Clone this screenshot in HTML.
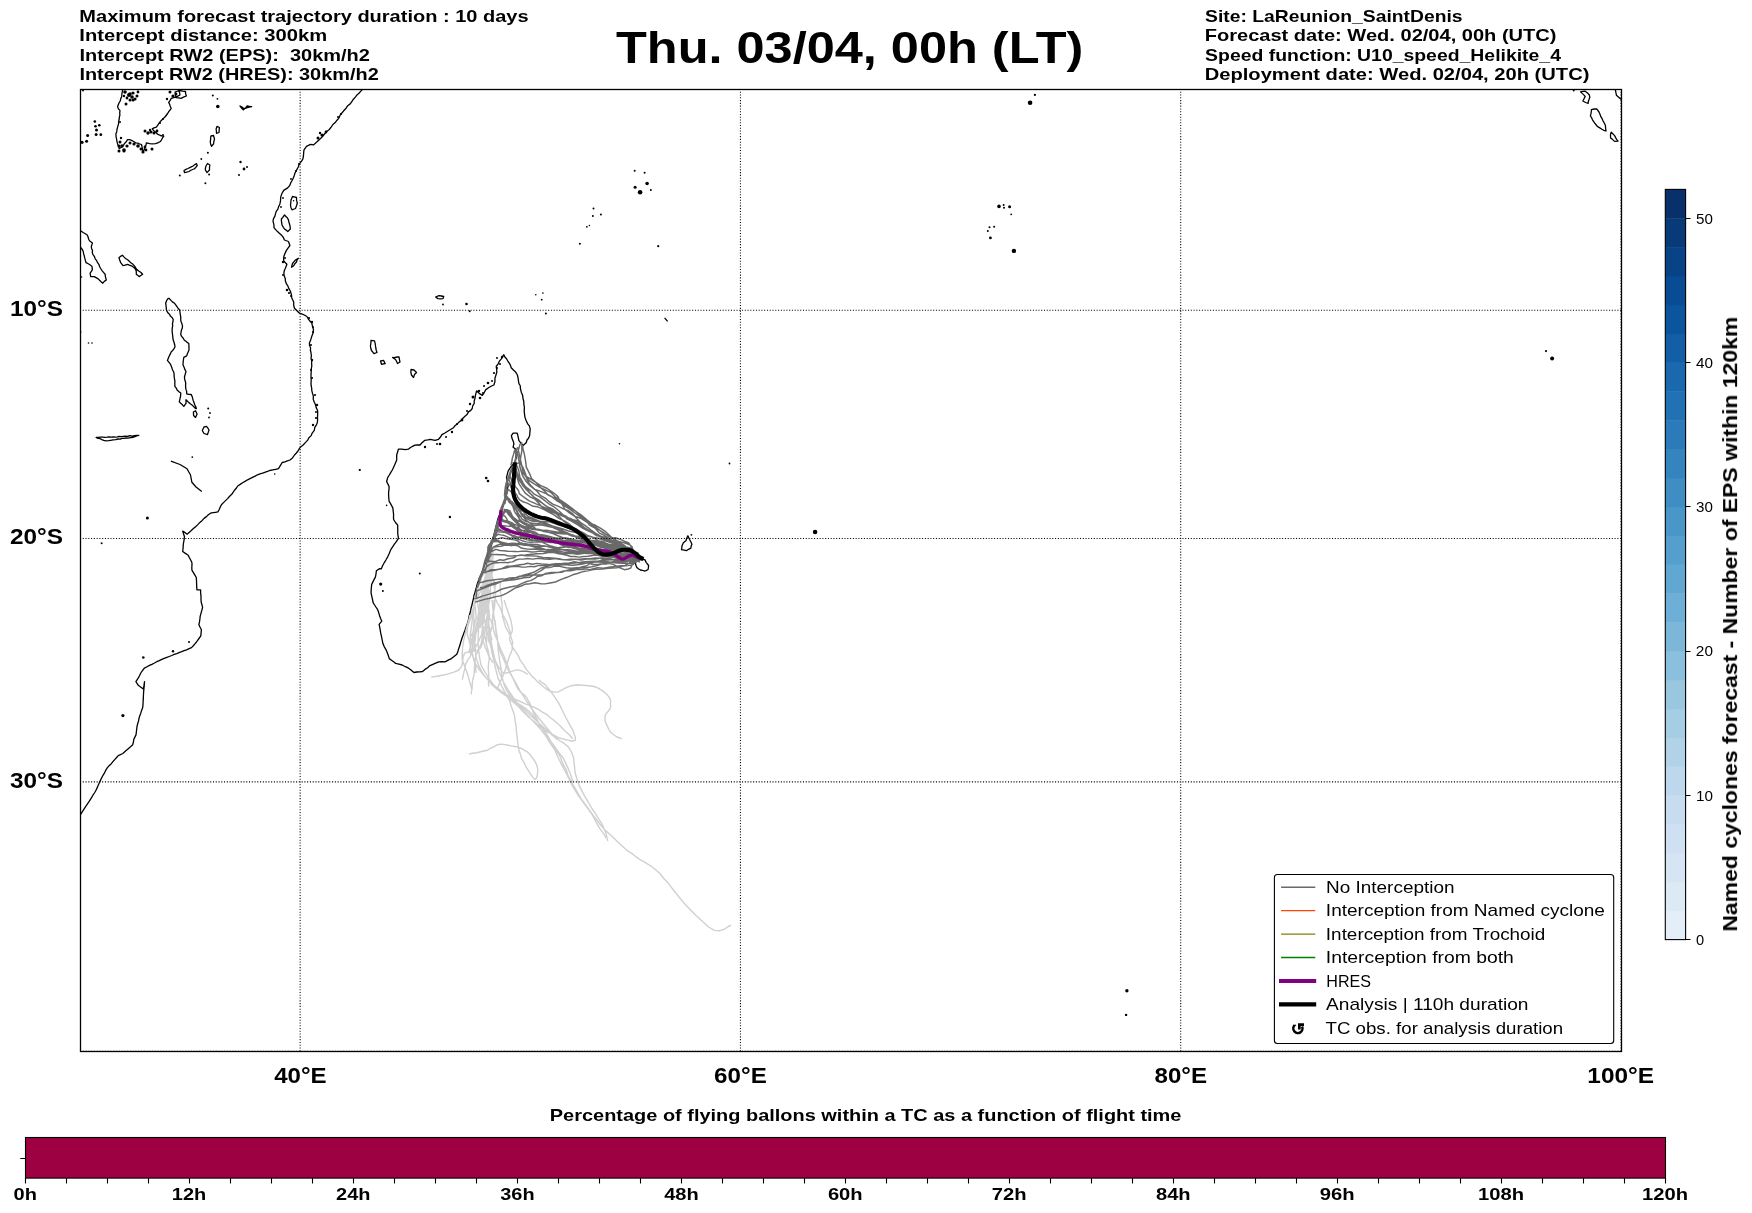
<!DOCTYPE html><html><head><meta charset="utf-8"><style>html,body{margin:0;padding:0;background:#fff;}svg{display:block;}text{font-family:"Liberation Sans",sans-serif;white-space:pre;}</style></head><body>
<svg width="1752" height="1213" viewBox="0 0 1752 1213">
<rect width="1752" height="1213" fill="#fff"/>
<defs><clipPath id="mc"><rect x="80.00" y="89.00" width="1541.00" height="962.28"/></clipPath></defs>
<g clip-path="url(#mc)">
<path d="M362.4 89.5 360.6 91.4 359.2 93.1 357.0 94.9 355.3 97.1 353.4 99.2 352.0 101.3 350.2 103.9 347.7 105.7 346.1 108.2 343.7 110.8 342.3 112.5 340.1 115.2 338.9 118.1 337.0 120.2 335.2 122.6 332.9 124.5 331.3 126.8 329.3 129.5 327.0 131.3 324.9 133.5 323.3 135.5 321.3 137.8 319.4 139.6 317.4 141.4 315.4 143.3 313.4 144.9 310.5 144.4 306.5 146.3 304.0 149.8 303.7 152.3 303.5 155.2 303.0 158.6 301.6 161.2 299.1 164.1 298.4 166.8 297.1 169.1 295.9 171.2 294.9 173.3 294.1 176.0 293.2 178.2 292.1 180.5 290.7 182.9 289.6 185.7 287.7 187.9 283.7 190.4 281.8 193.8 280.7 197.1 280.5 200.9 279.9 203.9 278.5 206.9 277.9 209.1 276.1 211.6 275.5 213.8 274.9 216.1 273.5 218.6 273.0 221.2 273.9 224.6 274.0 227.6 275.4 229.4 277.5 231.6 279.3 233.2 281.9 235.6 283.4 237.5 284.4 240.0 288.4 241.5 289.9 245.5 288.2 247.9 286.4 250.4 284.9 253.6 283.9 256.3 283.6 258.9 283.9 261.3 286.9 264.3 285.4 268.2 284.3 270.6 283.9 273.2 284.1 275.6 285.3 278.7 285.4 281.1 286.5 283.9 287.9 286.0 288.8 288.4 290.3 291.0 291.4 294.6 291.8 297.9 293.7 302.0 293.7 305.5 294.5 308.2 296.7 310.5 299.5 313.2 302.2 314.1 304.3 315.0 306.9 316.5 308.2 318.8 309.9 321.0 311.8 323.1 312.5 326.4 313.5 329.7 313.1 333.0 311.8 336.3 310.7 339.9 309.4 342.9 309.5 345.1 310.6 348.1 310.4 350.0 311.0 352.8 311.4 355.8 311.0 358.5 311.8 360.8 311.6 363.0 311.8 366.0 311.2 369.3 311.2 371.9 311.0 374.9 311.0 377.5 311.2 380.0 311.0 383.0 311.1 385.2 311.7 388.4 311.8 390.7 312.5 393.4 313.4 396.2 313.2 399.1 314.3 402.2 315.4 404.6 316.2 407.6 317.6 410.5 317.7 413.5 317.5 417.5 317.6 420.4 317.2 423.0 316.1 425.4 314.8 427.4 314.3 430.3 312.2 433.1 311.2 435.6 308.9 437.8 307.7 440.1 305.6 442.4 303.4 444.7 301.2 446.4 299.5 448.4 298.0 451.0 296.4 453.0 294.5 455.0 292.5 457.9 290.0 460.0 287.4 460.9 284.9 461.8 282.2 462.5 280.3 465.7 278.5 468.7 275.7 469.3 272.7 469.9 269.8 470.5 267.4 471.4 264.8 472.3 262.6 473.2 260.0 473.9 257.5 474.8 255.1 476.1 252.5 477.4 250.0 478.6 247.6 479.8 245.0 481.4 242.6 482.8 240.2 484.4 237.7 486.0 236.2 488.3 234.5 490.2 233.0 492.5 231.5 494.6 229.4 496.5 227.6 498.6 225.5 500.6 223.5 502.6 221.6 504.5 220.3 506.9 219.2 509.5 217.9 511.9 215.5 512.3 213.0 512.7 210.5 513.2 208.3 514.8 206.5 516.6 204.3 518.1 202.2 520.4 199.9 522.4 197.8 524.6 195.6 526.8 193.4 528.6 191.3 530.5 189.1 532.4 187.0 534.2 185.0 532.6 182.7 531.1 183.5 533.8 184.5 536.7 184.0 540.3 183.3 544.1 183.1 547.8 182.7 551.5 185.4 553.4 188.2 555.2 189.3 557.6 190.7 560.0 191.9 562.6 192.0 565.0 191.8 567.5 191.9 570.1 193.4 572.6 194.9 575.1 196.3 577.5 196.5 580.7 196.6 583.6 196.7 586.6 196.9 589.8 200.6 589.8 200.6 592.9 201.0 595.9 201.0 599.1 201.2 602.2 202.0 604.8 202.6 607.4 201.8 610.4 201.0 613.3 200.2 616.1 199.9 618.9 199.5 621.9 198.9 624.7 200.1 627.2 201.4 629.7 201.1 632.9 200.8 635.9 198.6 639.0 196.5 642.0 194.9 643.9 193.3 645.7 191.5 647.6 189.1 648.6 186.6 649.8 184.1 650.7 181.7 651.7 179.1 652.7 176.8 653.6 174.2 654.4 171.7 655.5 169.2 656.5 166.9 657.4 164.2 658.4 161.8 659.4 159.3 660.7 156.8 661.7 154.5 663.0 151.9 664.3 149.5 665.4 146.9 666.8 144.5 668.0 142.6 670.4 140.8 673.0 139.6 675.5 138.3 677.9 135.9 681.6 138.3 685.3 140.9 687.2 143.3 689.0 144.0 685.3 144.5 681.6 144.3 685.2 143.9 689.0 143.6 692.3 143.4 695.7 143.3 698.9 143.1 701.8 143.0 704.7 142.7 707.6 141.6 710.4 140.7 713.4 139.6 716.2 138.9 718.8 138.5 721.2 137.7 723.5 137.1 726.1 136.7 729.0 136.4 731.8 136.0 734.9 133.9 739.1 133.4 742.0 132.7 744.8 130.5 746.8 128.3 748.7 126.1 750.6 122.8 753.5 118.3 755.6 116.6 757.5 114.7 759.6 112.9 761.7 111.1 763.9 109.0 765.8 107.2 767.9 105.7 770.3 104.5 772.9 103.0 775.3 101.3 778.6 99.7 781.9 98.3 785.0 97.1 787.9 95.6 791.0 94.4 793.0 92.9 795.2 91.7 797.4 90.3 799.6 89.0 801.7 87.3 804.2 85.6 806.7 84.0 809.1 82.4 811.6 80.8 814.1 78.8 816.7 76.9 819.3 75.0 822.0M503.7 354.4 504.7 356.7 506.5 358.7 507.7 360.8 509.2 363.2 510.4 365.1 511.2 367.7 513.7 370.3 515.8 372.3 517.4 375.0 518.1 378.1 518.5 381.1 519.0 383.8 520.2 385.5 520.4 388.5 521.3 392.2 522.7 395.4 522.9 398.1 523.8 401.5 523.9 404.6 524.4 407.3 524.2 411.0 524.5 413.9 524.9 417.1 526.2 420.8 527.7 423.9 529.3 425.8 530.2 428.9 529.9 432.6 529.6 435.8 528.5 438.3 527.0 440.0 526.2 442.7 523.0 445.6 520.6 442.6 518.9 440.6 518.4 438.1 517.8 435.3 517.2 433.2 513.1 433.2 511.4 435.7 511.9 438.1 513.4 441.7 513.9 443.9 513.1 447.2 515.2 448.8 516.4 451.3 516.3 454.3 516.4 457.1 515.5 460.1 514.7 462.9 511.4 466.2 509.7 468.6 508.1 471.1 507.3 474.4 506.5 477.7 507.1 480.3 507.6 483.3 508.1 486.0 507.5 488.4 507.2 490.9 506.6 493.3 506.2 495.7 505.7 498.3 504.7 501.2 503.6 503.9 502.4 506.6 501.5 509.2 500.5 511.8 499.7 514.4 498.6 517.0 497.7 519.5 497.1 522.3 496.4 525.0 495.8 527.9 495.0 530.6 494.4 533.2 493.6 536.0 492.8 538.3 491.9 540.9 491.0 543.3 490.4 545.9 489.5 548.3 488.6 551.4 487.9 554.1 487.1 557.1 486.3 560.0 485.4 562.6 484.5 565.4 483.5 568.1 482.5 570.7 481.6 573.2 480.4 576.1 479.2 578.7 478.2 581.4 477.2 584.1 476.5 586.9 475.6 589.9 474.9 592.6 474.0 595.4 473.6 597.9 473.0 600.4 472.4 602.8 471.8 605.5 471.1 608.0 470.7 610.4 470.0 613.0 469.3 615.5 468.8 617.9 468.3 620.6 467.5 623.2 466.6 625.6 465.7 627.9 465.0 630.3 464.0 632.7 463.2 635.0 462.3 637.3 461.5 639.7 460.7 642.4 460.0 644.7 459.2 647.2 458.5 649.4 457.7 652.0 456.8 654.3 454.0 656.6 451.4 658.6 448.2 660.2 445.0 661.8 441.9 661.7 438.6 661.8 435.7 663.2 432.9 664.3 430.0 665.6 427.6 667.7 425.0 669.4 422.5 671.5 419.7 671.8 416.7 672.0 413.9 672.5 411.3 670.2 408.6 668.2 405.4 666.7 402.2 665.0 398.9 664.1 395.7 663.4 393.6 661.8 391.5 660.2 389.3 658.6 388.3 655.5 387.1 652.2 385.8 649.3 384.2 646.6 382.9 643.6 382.4 641.0 381.8 638.2 381.3 635.6 380.7 632.9 380.2 630.1 379.7 627.1 379.1 624.3 381.8 621.1 380.6 618.5 379.6 615.7 378.7 612.6 377.5 609.3 375.9 607.0 374.6 605.0 373.2 602.9 372.5 599.5 371.8 596.3 371.1 593.2 371.1 590.4 371.4 587.5 371.6 584.6 372.8 582.1 374.0 579.6 375.4 577.1 376.0 574.0 376.4 570.7 379.6 568.6 381.2 568.9 382.7 565.5 384.5 562.3 386.2 559.5 387.8 556.6 389.0 554.0 390.0 551.5 391.1 549.1 392.8 546.6 394.4 544.2 396.5 541.4 398.5 538.4 398.0 535.6 397.7 532.7 397.8 530.3 397.7 527.7 397.7 525.2 395.5 522.5 393.6 519.5 393.5 516.9 393.6 514.5 393.2 511.2 392.8 507.9 391.6 505.6 390.4 503.4 389.1 501.3 388.8 498.0 388.6 494.7 388.6 491.9 389.0 489.3 389.1 486.5 387.8 483.9 386.6 481.5 387.8 477.4 389.3 475.0 390.8 472.4 392.3 470.0 393.5 467.5 394.6 465.1 395.7 462.4 396.7 459.9 396.7 455.0 397.6 452.0 398.4 449.2 401.5 449.1 405.4 449.6 408.3 449.2 410.2 447.7 412.6 446.3 414.9 445.1 417.3 444.9 420.0 445.0 422.0 442.8 424.6 440.4 427.8 439.9 430.4 439.3 435.0 440.4 438.5 439.3 440.5 437.0 441.9 434.6 444.5 433.2 447.7 431.2 451.0 429.2 453.5 427.7 454.9 425.8 457.3 423.9 459.2 421.9 461.6 420.2 463.4 417.7 465.0 416.2 467.0 414.6 468.5 411.9 470.8 410.4 472.2 408.5 472.7 405.9 474.2 403.5 474.2 401.0 475.1 397.8 475.4 395.4 476.6 390.8 479.2 393.4 482.3 395.4 484.1 392.8 485.8 389.6 489.3 387.3 491.5 386.0 493.9 385.0 494.9 381.7 495.0 378.1 495.9 375.2 496.8 372.3 496.7 369.6 496.2 366.5 498.3 363.6 499.6 360.8 501.3 358.8 502.7 356.8 503.7 354.4M284.5 215.0 286.2 216.8 287.5 218.0 288.5 220.1 288.9 222.1 289.5 224.0 290.1 226.4 290.3 229.0 287.8 231.6 286.1 230.1 284.5 229.0 283.4 227.3 282.0 225.0 281.7 222.8 281.4 220.9 281.4 219.0 282.8 217.3 284.5 215.0ZM292.5 196.5 294.2 196.9 296.5 197.5 296.6 200.4 297.3 203.0 296.6 205.5 295.5 208.5 292.0 209.8 290.9 207.4 290.5 205.0 290.8 202.8 291.0 200.0 292.5 196.5ZM298.3 258.3 297.1 259.9 296.5 262.0 294.8 263.8 293.5 266.0 291.5 267.2 292.5 263.5 293.8 261.9 295.5 260.0 298.3 258.3ZM371.0 340.4 374.5 340.8 375.1 343.2 375.5 346.0 375.8 348.0 376.3 350.5 377.0 352.5 374.0 353.6 371.5 350.5 370.8 348.3 370.4 346.0 370.9 343.2 371.0 340.4ZM380.5 361.0 383.5 360.4 385.2 363.5 381.5 364.3 380.5 361.0ZM392.6 357.5 394.6 357.6 397.2 357.0 399.0 356.9 399.5 359.8 400.0 362.0 397.5 363.5 396.5 361.3 395.5 359.5 392.6 357.5ZM411.0 369.5 414.0 370.0 416.5 372.5 414.5 374.5 413.5 377.5 411.5 375.0 410.9 372.6 411.0 369.5ZM636.4 560.6 638.9 560.0 640.9 559.6 644.8 559.6 646.3 562.6 648.6 565.5 648.4 567.5 648.1 569.5 646.0 570.6 644.3 571.0 642.5 570.3 640.4 570.0 638.3 568.7 636.9 567.5 636.1 565.7 635.4 563.5 636.4 560.6ZM687.9 535.8 689.4 539.3 690.8 541.8 691.9 544.2 691.2 546.0 690.9 548.2 688.5 549.3 686.4 550.7 684.2 550.2 681.5 549.7 681.8 548.0 682.0 545.7 683.4 542.8 685.9 540.8 686.9 537.8 687.9 535.8ZM119.0 257.5 120.5 256.4 122.4 255.2 123.9 256.9 125.5 258.5 127.6 259.8 129.6 261.6 130.8 262.8 133.0 264.3 134.6 266.2 135.7 267.9 136.9 269.6 139.1 271.2 141.0 272.5 142.6 274.2 141.1 275.3 139.2 276.6 136.3 274.2 136.3 271.6 135.7 269.6 134.2 267.7 132.2 266.2 129.9 265.3 127.6 264.4 125.1 265.2 123.0 265.6 120.7 262.7 119.7 260.0 119.0 257.5ZM168.0 298.5 166.6 300.7 165.7 303.1 166.0 305.3 166.2 307.3 166.3 309.1 166.9 311.2 168.1 313.1 169.7 314.5 170.3 316.0 172.1 317.5 173.2 319.3 173.0 321.3 172.4 323.8 172.7 325.3 172.4 327.4 172.1 329.6 172.2 331.7 172.4 333.6 172.7 336.0 172.8 337.7 173.2 340.0 174.0 342.2 174.7 344.7 175.0 347.0 174.0 348.6 172.9 350.2 171.2 351.9 170.3 353.9 168.9 356.7 167.4 360.4 169.0 362.4 170.4 364.1 171.9 367.8 172.4 369.7 173.6 371.8 174.1 373.7 174.1 376.0 174.4 378.4 174.9 381.2 174.8 383.5 174.9 386.4 176.3 388.2 177.1 390.1 179.0 391.7 180.8 393.0 180.6 395.8 180.1 398.2 179.3 401.9 180.7 403.3 182.2 404.6 183.8 406.4 186.0 403.4 186.0 399.7 188.2 401.9 190.0 403.5 191.9 404.9 194.1 407.0 195.6 408.6 196.4 408.6 195.8 406.7 194.6 404.5 194.1 402.7 193.2 400.5 192.7 398.7 192.2 396.6 191.2 394.5 188.7 394.3 186.7 393.8 186.7 391.6 186.0 389.4 185.6 387.3 185.6 384.9 185.7 382.9 185.2 381.0 184.6 379.1 184.5 376.7 185.3 373.9 186.0 371.5 184.7 369.1 184.1 367.2 183.0 364.8 183.1 362.6 183.4 359.8 183.8 357.4 186.7 355.9 187.2 354.3 188.0 352.2 189.0 350.0 189.0 347.9 188.9 345.5 188.8 343.5 186.8 342.1 184.2 340.0 183.3 338.2 181.6 336.4 180.7 334.3 181.0 332.6 181.4 330.3 182.3 328.0 182.5 326.2 181.9 323.6 181.0 321.4 180.7 319.3 180.8 317.3 180.3 314.5 180.0 312.5 179.6 310.0 177.8 307.8 176.1 305.4 174.6 303.3 172.4 301.9 170.7 300.1 169.2 298.5 168.0 298.5ZM193.4 412.0 195.5 410.8 197.1 414.0 195.5 417.5 193.6 415.5 193.4 412.0ZM204.0 427.0 206.5 426.4 207.8 428.0 209.0 430.0 208.3 432.1 207.5 434.6 204.0 433.5 202.3 430.5 204.0 427.0ZM96.1 437.5 98.3 437.3 100.6 437.1 102.8 437.1 105.1 437.3 107.0 437.2 109.0 437.0 111.2 437.1 113.3 437.0 115.1 437.1 117.4 436.9 119.2 436.5 121.3 436.7 123.3 436.3 125.5 436.2 127.7 436.3 129.8 435.6 132.3 436.1 134.5 435.7 136.8 435.4 138.8 435.4 136.7 435.8 134.3 436.8 132.4 437.5 130.3 437.6 127.9 438.1 126.2 438.0 124.0 438.3 121.9 438.3 120.3 439.1 117.9 439.0 115.7 439.6 113.1 439.9 110.6 440.3 108.5 440.7 106.1 440.8 103.8 440.4 101.8 439.6 100.3 438.7 98.0 438.4 96.1 437.5ZM122.5 88.0 122.5 90.9 121.9 93.7 121.7 96.7 120.8 98.4 120.3 100.9 119.2 102.5 118.5 104.3 117.6 106.6 118.5 108.9 120.0 110.7 119.7 112.8 119.9 115.2 119.4 116.7 119.2 119.0 118.7 121.3 118.7 122.9 118.2 125.0 117.6 127.2 117.0 129.2 116.7 131.9 115.9 133.8 116.1 136.8 116.7 139.6 117.1 142.1 117.6 143.9 118.7 146.3 119.2 148.7 121.5 147.3 123.3 145.4 124.8 143.2 126.2 141.8 127.5 139.6 129.5 139.7 131.6 140.4 133.5 141.5 135.7 142.9 137.8 143.2 139.3 143.8 141.5 144.5 142.1 147.2 142.5 149.6 143.1 152.0 144.2 149.8 144.6 147.3 145.9 145.3 146.4 142.9 149.7 143.7 152.4 143.8 155.5 143.7 157.7 142.9 160.4 141.5 161.5 139.8 162.6 137.7 163.7 136.3 160.4 135.5 157.1 133.8 155.5 132.0 153.7 130.7 152.2 128.9 154.0 127.9 156.3 127.2 157.8 125.1 158.9 123.4 160.4 121.4 161.8 120.0 164.1 117.8 165.4 116.5 166.5 115.0 167.6 113.5 168.9 111.4 170.1 110.0 171.2 108.3 170.3 106.5 169.7 104.4 168.7 102.5 170.0 100.7 171.2 98.4 173.7 97.7 176.0 97.0 178.3 95.8 180.0 95.0 179.5 92.4 178.7 90.1 178.0 88.0 175.9 88.2 174.1 88.2 171.6 88.0 169.6 88.1 167.7 87.7 165.7 88.2 163.7 88.3 161.3 87.8 159.2 88.0 157.4 88.0 155.2 88.2 153.0 88.3 151.3 88.0 149.4 87.8 146.9 87.9 144.8 87.9 143.1 88.0 140.8 88.1 138.7 88.2 136.7 87.8 134.6 88.1 133.0 88.2 130.4 87.9 128.6 87.8 126.9 87.7 124.5 88.2 122.5 88.0ZM175.0 92.0 177.8 91.0 180.0 90.5 182.7 91.2 185.5 91.5 185.6 93.6 186.4 96.0 184.0 96.9 181.0 98.4 178.4 97.8 176.0 97.5 175.4 94.5 175.0 92.0ZM75.0 231.0 77.6 231.3 80.9 231.0 83.2 232.5 84.9 233.5 87.2 235.0 88.0 236.8 88.7 239.2 89.5 240.8 92.4 243.1 91.3 246.5 91.6 248.4 92.5 250.6 92.3 252.5 93.0 254.6 94.3 256.3 95.2 258.8 96.7 260.7 97.6 262.7 99.0 264.7 99.8 267.0 101.0 269.0 102.2 270.8 103.5 272.4 105.1 274.2 105.5 277.1 106.3 280.0 104.3 281.4 102.8 283.2 101.1 281.7 99.6 280.3 98.2 278.9 96.5 277.9 94.2 276.6 90.7 276.6 90.1 273.1 91.5 271.1 92.4 269.6 91.9 266.2 89.9 264.7 88.2 263.8 86.1 262.7 85.3 260.1 84.7 257.9 84.3 255.8 83.7 254.2 83.3 251.8 82.6 250.0 80.9 247.7 77.9 247.5 75.0 247.7 75.3 245.5 75.2 243.7 75.3 241.1 74.9 239.3 74.7 237.5 74.9 235.4 75.0 232.8 75.0 231.0ZM211.0 136.0 213.5 135.5 214.5 139.0 213.9 141.3 213.5 144.0 211.5 146.2 210.6 143.9 210.3 142.0 210.6 139.7 210.6 137.9 211.0 136.0ZM217.0 126.4 219.4 127.5 219.2 129.7 219.0 132.5 216.5 133.4 216.4 131.0 216.1 129.0 217.0 126.4ZM196.5 163.6 197.2 165.5 195.8 167.4 194.0 169.0 191.3 170.0 189.0 171.5 186.6 172.2 184.5 172.6 184.0 170.5 185.9 169.4 188.0 168.5 190.8 167.1 193.0 166.0 194.6 164.7 196.5 163.6ZM207.5 163.5 209.9 165.0 209.5 167.2 209.5 170.0 207.0 172.6 205.4 170.0 205.4 168.1 206.0 166.0 207.5 163.5ZM240.0 106.0 241.7 108.2 243.3 109.9 245.7 107.7 247.4 105.8 249.6 106.5 251.6 106.6 249.3 107.2 247.4 107.5 245.6 108.3 243.5 108.5 242.0 107.1 240.0 106.0ZM1591.5 109.7 1594.2 109.0 1596.7 108.8 1599.0 112.0 1599.9 114.0 1600.6 116.1 1601.9 118.3 1602.9 120.6 1604.1 122.7 1605.4 125.2 1605.6 128.1 1606.0 131.0 1603.7 130.3 1601.9 129.3 1599.4 127.6 1597.3 126.4 1595.0 123.5 1593.7 121.6 1592.5 119.8 1591.7 117.9 1590.4 116.0 1591.0 113.4 1591.3 111.4 1591.5 109.7ZM1611.2 132.2 1612.8 133.8 1614.6 135.6 1615.5 137.4 1616.6 139.3 1618.1 141.1 1614.6 141.4 1612.7 139.6 1610.6 137.9 1610.5 135.7 1610.6 133.9 1611.2 132.2ZM1580.6 91.8 1582.6 91.4 1585.2 91.2 1587.5 93.0 1589.2 94.7 1589.8 97.0 1589.1 99.2 1588.4 101.2 1588.1 103.3 1585.6 102.5 1582.9 101.0 1584.0 98.8 1585.2 96.4 1584.0 95.1 1582.2 93.4 1580.6 91.8ZM435.6 297.0 439.0 295.6 441.3 296.0 443.7 296.5 443.0 298.6 440.3 298.8 438.0 298.6 435.6 297.0ZM170.9 461.2 180.0 464.5 187.0 468.7 190.5 475.0 191.9 482.3 196.0 487.0 201.8 491.5M1615.2 89.0 1616.4 95.2 1620.4 98.7 1622.0 100.0M664.6 317.8 667.6 321.3" fill="none" stroke="#000" stroke-width="1.3" stroke-linejoin="round"/>
<g fill="#000"><circle cx="634.7" cy="170.7" r="1.0"/><circle cx="644.6" cy="172.8" r="1.0"/><circle cx="647.1" cy="183.5" r="1.8"/><circle cx="635.1" cy="187.2" r="1.5"/><circle cx="640.1" cy="192.2" r="2.3"/><circle cx="650.8" cy="190.1" r="1.0"/><circle cx="593.5" cy="208.6" r="1.0"/><circle cx="600.9" cy="214.4" r="1.0"/><circle cx="592.9" cy="216.1" r="1.0"/><circle cx="586.9" cy="226.8" r="0.9"/><circle cx="589.4" cy="225.5" r="0.8"/><circle cx="579.9" cy="243.7" r="1.0"/><circle cx="658.2" cy="246.2" r="1.1"/><circle cx="999.0" cy="206.4" r="1.8"/><circle cx="1003.6" cy="205.1" r="1.0"/><circle cx="1004.0" cy="207.7" r="1.0"/><circle cx="1009.6" cy="206.7" r="1.5"/><circle cx="1011.2" cy="214.3" r="0.9"/><circle cx="989.5" cy="227.2" r="1.0"/><circle cx="994.1" cy="226.8" r="1.0"/><circle cx="987.8" cy="231.1" r="1.0"/><circle cx="990.4" cy="237.9" r="1.4"/><circle cx="1013.9" cy="250.9" r="2.2"/><circle cx="1034.9" cy="94.9" r="1.1"/><circle cx="1030.1" cy="102.8" r="2.3"/><circle cx="815.1" cy="532.0" r="2.3"/><circle cx="1546.0" cy="351.1" r="1.1"/><circle cx="1552.1" cy="358.6" r="2.0"/><circle cx="1126.9" cy="990.8" r="1.7"/><circle cx="1126.1" cy="1014.9" r="1.2"/><circle cx="443.0" cy="304.5" r="0.9"/><circle cx="466.5" cy="304.0" r="1.3"/><circle cx="469.7" cy="311.2" r="1.0"/><circle cx="535.8" cy="294.8" r="0.8"/><circle cx="542.9" cy="293.1" r="0.8"/><circle cx="541.7" cy="299.7" r="0.9"/><circle cx="545.9" cy="313.4" r="1.0"/><circle cx="619.5" cy="443.8" r="0.8"/><circle cx="729.5" cy="463.5" r="0.9"/><circle cx="691.4" cy="534.8" r="0.9"/><circle cx="486.2" cy="478.0" r="1.3"/><circle cx="488.0" cy="481.0" r="1.3"/><circle cx="449.9" cy="517.0" r="1.2"/><circle cx="380.7" cy="584.1" r="1.6"/><circle cx="382.9" cy="591.1" r="1.0"/><circle cx="419.8" cy="573.4" r="1.0"/><circle cx="386.6" cy="505.4" r="0.8"/><circle cx="359.8" cy="470.0" r="1.0"/><circle cx="359.6" cy="469.8" r="0.9"/><circle cx="274.7" cy="474.0" r="0.8"/><circle cx="147.4" cy="518.1" r="1.5"/><circle cx="101.6" cy="543.3" r="1.0"/><circle cx="192.3" cy="457.1" r="0.9"/><circle cx="143.3" cy="657.5" r="1.3"/><circle cx="122.9" cy="715.6" r="1.6"/><circle cx="173.0" cy="651.3" r="1.2"/><circle cx="189.0" cy="642.0" r="1.0"/><circle cx="94.8" cy="121.5" r="1.3"/><circle cx="95.5" cy="126.2" r="1.3"/><circle cx="99.3" cy="125.3" r="1.3"/><circle cx="96.5" cy="130.1" r="1.5"/><circle cx="96.1" cy="134.4" r="1.5"/><circle cx="100.8" cy="134.7" r="1.4"/><circle cx="87.6" cy="135.4" r="1.5"/><circle cx="86.6" cy="141.3" r="1.5"/><circle cx="82.0" cy="142.3" r="1.6"/><circle cx="212.8" cy="95.5" r="1.0"/><circle cx="217.4" cy="98.8" r="0.9"/><circle cx="217.8" cy="106.5" r="1.8"/><circle cx="207.9" cy="152.8" r="1.0"/><circle cx="201.3" cy="159.0" r="0.9"/><circle cx="209.1" cy="174.6" r="1.0"/><circle cx="179.8" cy="175.4" r="1.0"/><circle cx="205.4" cy="183.3" r="1.0"/><circle cx="240.5" cy="162.0" r="1.2"/><circle cx="244.0" cy="169.0" r="1.4"/><circle cx="247.0" cy="167.0" r="1.0"/><circle cx="239.0" cy="175.0" r="1.0"/><circle cx="293.6" cy="200.8" r="0.8"/><circle cx="130.0" cy="94.0" r="1.8"/><circle cx="126.0" cy="104.0" r="1.5"/><circle cx="133.0" cy="100.0" r="1.6"/><circle cx="120.0" cy="122.0" r="1.0"/><circle cx="163.0" cy="135.0" r="1.0"/><circle cx="152.0" cy="149.0" r="1.5"/><circle cx="146.0" cy="150.0" r="1.4"/><circle cx="119.0" cy="146.0" r="1.6"/><circle cx="124.0" cy="151.0" r="1.5"/><circle cx="208.2" cy="408.5" r="1.0"/><circle cx="210.0" cy="413.0" r="0.9"/><circle cx="209.0" cy="417.5" r="0.9"/><circle cx="83.0" cy="90.5" r="1.0"/><circle cx="1573.7" cy="90.6" r="1.0"/><circle cx="125.0" cy="92.0" r="1.8"/><circle cx="129.0" cy="95.0" r="2.0"/><circle cx="132.0" cy="97.0" r="1.8"/><circle cx="135.0" cy="99.0" r="1.6"/><circle cx="130.0" cy="100.0" r="1.5"/><circle cx="127.0" cy="98.0" r="1.4"/><circle cx="137.0" cy="96.0" r="1.5"/><circle cx="133.0" cy="93.0" r="1.6"/><circle cx="138.0" cy="92.0" r="1.4"/><circle cx="124.0" cy="96.0" r="1.2"/><circle cx="120.0" cy="142.0" r="1.5"/><circle cx="122.0" cy="146.0" r="1.7"/><circle cx="124.0" cy="150.0" r="1.8"/><circle cx="119.0" cy="151.0" r="1.5"/><circle cx="127.0" cy="146.0" r="1.6"/><circle cx="130.0" cy="143.0" r="1.5"/><circle cx="134.0" cy="144.0" r="1.6"/><circle cx="138.0" cy="146.0" r="1.8"/><circle cx="141.0" cy="149.0" r="1.5"/><circle cx="143.0" cy="152.0" r="1.6"/><circle cx="145.0" cy="147.0" r="1.4"/><circle cx="121.0" cy="138.0" r="1.2"/><circle cx="145.0" cy="131.0" r="1.5"/><circle cx="148.0" cy="133.0" r="1.7"/><circle cx="151.0" cy="132.0" r="1.6"/><circle cx="154.0" cy="133.0" r="1.5"/><circle cx="157.0" cy="131.0" r="1.4"/><circle cx="150.0" cy="130.0" r="1.2"/><circle cx="170.0" cy="92.0" r="1.5"/><circle cx="173.0" cy="96.0" r="1.6"/><circle cx="176.0" cy="94.0" r="1.4"/><circle cx="167.0" cy="99.0" r="1.2"/><circle cx="160.0" cy="123.0" r="1.0"/><circle cx="163.0" cy="119.0" r="1.0"/><circle cx="440.0" cy="444.0" r="1.3"/><circle cx="446.0" cy="437.0" r="1.0"/><circle cx="452.0" cy="432.0" r="1.2"/><circle cx="457.0" cy="424.0" r="1.0"/><circle cx="462.0" cy="420.0" r="1.4"/><circle cx="467.0" cy="411.0" r="1.0"/><circle cx="470.0" cy="404.0" r="1.2"/><circle cx="473.0" cy="397.0" r="1.5"/><circle cx="479.0" cy="391.0" r="1.2"/><circle cx="484.0" cy="386.0" r="1.0"/><circle cx="488.0" cy="383.0" r="1.3"/><circle cx="492.0" cy="381.0" r="1.0"/><circle cx="494.0" cy="373.0" r="1.1"/><circle cx="497.0" cy="368.0" r="1.0"/><circle cx="500.0" cy="364.0" r="1.0"/><circle cx="497.0" cy="358.0" r="1.0"/><circle cx="502.0" cy="357.0" r="1.2"/><circle cx="480.0" cy="398.0" r="1.3"/><circle cx="483.0" cy="393.0" r="1.0"/><circle cx="425.0" cy="447.0" r="1.2"/><circle cx="437.0" cy="444.0" r="1.0"/><circle cx="318.0" cy="138.0" r="1.5"/><circle cx="322.0" cy="135.0" r="1.6"/><circle cx="326.0" cy="132.0" r="1.4"/><circle cx="320.0" cy="133.0" r="1.2"/><circle cx="341.0" cy="114.0" r="1.1"/><circle cx="338.0" cy="117.0" r="1.0"/><circle cx="299.0" cy="164.0" r="1.0"/><circle cx="296.0" cy="171.0" r="1.0"/><circle cx="291.0" cy="179.0" r="0.9"/><circle cx="283.0" cy="198.0" r="0.9"/><circle cx="281.0" cy="207.0" r="0.9"/><circle cx="283.0" cy="262.0" r="1.2"/><circle cx="285.0" cy="258.0" r="1.0"/><circle cx="283.0" cy="275.0" r="1.0"/><circle cx="287.0" cy="290.0" r="1.3"/><circle cx="289.0" cy="293.0" r="1.1"/><circle cx="291.0" cy="296.0" r="1.0"/><circle cx="309.0" cy="318.0" r="1.1"/><circle cx="312.0" cy="322.0" r="1.2"/><circle cx="313.0" cy="327.0" r="1.0"/><circle cx="313.0" cy="332.0" r="1.1"/><circle cx="311.0" cy="345.0" r="1.0"/><circle cx="312.0" cy="360.0" r="1.2"/><circle cx="311.0" cy="370.0" r="1.0"/><circle cx="312.0" cy="378.0" r="1.1"/><circle cx="315.0" cy="395.0" r="1.1"/><circle cx="317.0" cy="405.0" r="1.2"/><circle cx="316.0" cy="412.0" r="1.0"/><circle cx="316.0" cy="418.0" r="1.1"/><circle cx="313.0" cy="425.0" r="1.2"/><circle cx="88.5" cy="343.0" r="0.8"/><circle cx="92.0" cy="343.0" r="0.8"/><circle cx="81.5" cy="277.0" r="0.8"/><circle cx="81.0" cy="332.0" r="0.6"/></g>
<path d="M490 552L486 570L482 588L479 604L477 618L476 628L481 628L485 610L488 592L491 574L494 556Z" fill="#d3d3d3"/>
<path d="M484.5 600.0 483.1 604.9 480.6 611.9 477.5 620.3 475.9 627.9 475.7 634.9 474.8 642.3 475.5 649.4 475.7 656.0 477.3 661.4 479.2 666.7 481.7 671.3 484.5 676.0 488.3 680.0 491.7 684.6 496.2 688.5 501.5 692.6 507.6 696.9 513.6 700.8 520.6 705.0 526.4 709.1 531.5 713.8 535.2 718.2 539.2 723.1 543.3 728.6 547.3 735.1 551.7 742.8 556.0 749.9 560.3 757.0 563.0 763.9 566.2 769.6 568.2 776.2 571.5 782.1 574.7 787.7 578.0 793.3 581.3 799.1 585.7 804.9 589.8 810.6 594.5 817.1 599.6 823.7 604.7 829.7 611.7 836.1 618.6 842.7 626.3 849.8 633.4 854.7 639.3 859.1 645.0 862.3 650.7 865.8 655.0 869.2 659.7 873.2 664.0 878.7 668.5 883.3 672.1 888.3 676.2 893.5 680.0 898.2 684.4 903.5 688.8 908.2 695.0 914.6 702.0 921.0 708.5 927.0 714.5 930.4 719.2 930.8 724.6 929.1 728.3 926.5 731.1 925.1M504.1 600.0 505.7 605.0 508.5 613.0 511.1 621.3 512.3 628.0 512.2 631.7 510.7 634.0 510.2 636.2 509.4 638.9 510.9 643.4 512.8 647.5 515.5 651.6 518.3 655.9 520.3 660.4 523.7 664.9 526.3 669.4 529.6 673.3 532.0 676.4 534.9 678.8 537.1 681.4 540.2 683.8 543.6 687.0 547.0 689.4 550.3 691.3 554.9 692.1 558.4 691.9 562.6 689.6 566.6 687.3 571.6 685.7 577.1 684.8 583.1 685.2 588.8 685.7 594.1 686.5 598.2 688.2 601.9 690.4 605.4 693.1 607.7 695.4 609.4 697.7 610.7 700.6 610.4 703.5 610.8 706.3 609.7 709.3 607.8 711.7 605.5 714.4 604.9 717.6 605.1 721.2 606.7 724.8 608.6 729.0 610.4 732.0 613.1 734.3 616.2 736.5 619.6 738.0 621.8 738.7M480.0 600.0 479.2 610.6 478.7 626.0 478.0 642.8 479.3 655.9 481.0 665.1 485.0 672.2 488.8 678.4 493.0 683.9 497.6 689.4 502.8 693.3 507.7 697.0 512.2 701.2 516.9 705.1 520.9 709.2 524.7 713.3 529.4 717.8 534.5 721.8 540.2 726.8 545.9 731.2 552.0 734.2 558.3 737.7 565.8 739.6 572.1 741.3 575.4 740.4 575.2 736.9 573.0 730.6 569.5 724.3 566.1 718.0 562.7 711.3 559.3 704.1 555.5 698.1 551.5 692.7 548.1 688.2 544.8 684.4 541.2 682.0 539.1 679.9M488.0 590.0 487.9 599.3 488.7 612.6 488.8 627.4 490.3 640.2 491.6 651.1 493.9 660.7 495.9 670.0 498.1 678.4 501.5 685.6 504.0 690.6 507.1 696.2 509.8 701.2 511.2 706.3 512.8 710.6 514.5 715.5 515.1 720.6 516.1 726.2 516.6 733.1 517.4 739.7 518.2 745.9 518.9 750.2 520.5 754.6 521.5 758.3 524.1 762.7 526.2 767.2 529.9 772.9 532.7 777.1 534.7 779.3 536.1 778.7 537.3 775.8 537.7 771.6 537.7 768.6 536.9 765.5 535.6 762.5 533.9 759.9 531.9 757.3 530.0 754.5 527.7 752.2 524.6 750.3 520.9 748.2 516.4 746.7 511.2 745.9 505.8 744.7 501.4 744.1 497.4 744.7 494.5 746.4 490.9 748.2 487.6 750.2 482.7 751.2 477.0 752.7 472.1 753.3 469.0 754.1M487.3 590.0 487.4 594.9 487.9 601.4 488.1 609.6 486.9 616.9 486.2 624.7 484.7 633.4 482.9 641.7 480.7 648.0 477.2 650.4 472.7 651.4 468.3 652.0 464.5 653.2 463.1 657.0 462.6 662.0 461.7 666.2 458.9 670.0 453.3 672.4 444.6 674.8 436.9 676.3 431.2 677.1M492.0 600.0 493.0 609.5 494.9 622.7 496.7 637.0 499.6 650.3 504.5 661.2 508.8 671.1 514.7 680.9 519.7 690.2 525.0 698.6 530.2 706.7 535.4 713.7 540.5 720.3 545.0 725.7 548.5 730.0 552.0 734.2 556.0 738.0 560.3 741.0 564.5 743.7 568.5 747.1 571.2 751.4 573.6 757.8 574.3 764.4 575.1 772.7 577.2 779.6 579.1 785.4 581.7 790.6 584.9 796.7 588.3 802.1 591.3 807.5 595.2 813.2 598.9 819.3 602.1 824.2 604.4 829.5 606.2 834.1 607.0 838.4 607.8 841.0M486.0 600.0 487.3 611.1 489.4 627.3 491.7 644.9 495.0 659.9 498.9 671.5 503.3 681.8 508.7 690.8 515.0 699.9 521.9 708.9 530.1 718.0 538.2 726.5 545.2 735.0 549.9 742.9 554.9 750.2 558.4 758.3 561.9 765.1 565.3 771.4 568.6 777.9 571.4 783.9 575.0 790.2 578.7 796.0 583.2 802.4 588.1 808.8 592.3 814.9 595.9 821.6 599.7 828.4 603.8 833.8 606.0 838.0M495.0 620.0 495.7 627.7 497.4 638.2 498.2 650.0 499.6 660.1 501.0 668.7 501.9 675.6 503.6 683.3 506.1 689.6 510.8 696.5 516.8 703.2 523.6 708.5 530.2 715.0 537.6 721.7 545.5 729.0 552.6 735.4 558.0 740.0M478.0 590.0 477.3 593.9 475.5 600.5 474.6 607.2 473.0 613.7 472.1 621.2 471.2 628.4 470.2 635.2 470.4 642.3 470.7 648.4 472.0 653.4 473.6 659.1 476.2 664.8 479.4 669.9 483.5 675.1 487.9 679.9 492.6 684.2 497.2 687.9 501.9 691.5 507.2 694.9 512.4 698.2 518.9 701.0 525.3 703.9 532.2 706.4 537.9 709.1 542.3 712.1 546.6 714.3 550.0 717.5 554.4 720.7 559.3 725.1 564.7 730.7 569.7 735.2 572.7 738.7M486.0 590.0 485.6 594.6 485.1 601.3 484.3 609.7 484.1 617.0 485.5 624.0 486.7 631.1 488.9 638.8 490.3 644.5 491.7 649.7 492.5 654.3 494.2 657.8 495.9 661.8 497.8 665.6 499.5 668.4 501.9 671.4 503.9 673.2 507.5 672.8 510.8 671.6 514.8 670.4 517.9 669.9 520.8 670.7 523.7 671.9 526.1 673.4 527.9 674.3M494.0 600.0 493.8 604.8 493.0 612.5 492.4 620.4 493.1 628.0 495.0 635.3 498.0 641.8 500.7 649.3 504.0 656.2 506.7 663.3 509.6 671.1 512.9 678.1 515.4 684.0 518.0 689.0 520.9 692.5 524.2 694.8 526.8 697.8 528.3 700.7 529.9 703.4 530.9 705.8 532.2 709.0 533.6 713.2 536.3 717.5 538.4 722.0 540.5 725.8 543.1 730.0 545.8 734.2 548.6 738.3 551.9 742.8 555.2 747.3 559.0 752.6 563.0 757.7 565.4 762.4 568.0 768.1 570.4 774.0 572.0 779.0 572.7 782.2M500.0 580.0 500.5 583.9 500.1 588.6 500.9 594.5 501.4 600.1 502.1 605.2 502.3 611.6 502.6 616.6 504.4 622.8 505.7 627.3 508.9 632.9 511.1 637.6 512.7 642.2 512.3 645.5 512.2 649.5 511.1 652.4 509.6 655.9 508.1 660.2 507.0 664.3 505.7 668.5 504.2 672.9 502.1 677.9 499.9 682.2 498.1 686.9 497.0 690.0M470.0 615.0 469.2 618.8 467.4 624.6 465.9 630.7 464.6 636.7 463.5 641.3 462.7 646.5 462.3 651.7 462.2 656.0 462.2 660.0 463.4 662.8 464.8 666.7 466.1 670.0 468.0 675.5 469.3 680.6 471.2 686.5 472.0 690.0M493.4 563.6 492.6 565.2 490.3 568.4 489.1 571.5 487.0 574.3 485.6 576.8 485.0 578.9 483.2 581.9 482.6 584.6 481.0 587.0 478.8 589.3 477.1 592.5 475.7 594.5 475.2 597.0 474.8 599.7 474.5 602.6 474.8 605.2 475.2 607.8 475.8 610.0 475.7 612.6 476.0 615.8 476.3 618.2 475.2 620.6 475.0 623.2 474.5 626.3 473.5 628.9 473.0 631.8 471.6 634.9 471.3 636.4M475.4 598.8 474.9 601.5 474.7 604.9 474.3 608.5 473.7 612.3 473.6 615.7 474.0 619.2 473.8 622.8 473.6 626.0 473.7 629.6 472.9 633.0 472.5 636.3 472.6 639.6 472.5 643.5 472.4 646.4 472.2 650.5 472.3 653.2 473.2 656.7 473.8 660.1 474.8 663.6 474.4 667.3 474.4 670.7 474.0 674.4 473.4 677.3 472.5 680.9 472.2 684.7 472.1 688.5 471.3 692.1 471.4 694.5M489.4 571.5 488.6 574.2 487.4 578.6 486.1 582.7 484.8 587.2 484.2 590.7 483.2 594.5 483.1 598.8 482.6 602.7 481.7 606.5 481.2 610.4 480.7 613.7 479.9 617.7 478.2 622.1 476.5 625.6 475.2 629.7 474.4 633.7 474.3 637.3 473.8 641.2 473.9 645.3 473.9 648.6 471.8 652.8 470.0 656.9 467.6 660.1 465.8 663.9 464.7 668.7 463.7 673.2 462.8 677.3 462.2 679.7M484.5 580.2 485.6 582.0 486.7 584.5 488.0 587.9 489.3 590.9 489.4 593.5 489.9 595.6 489.7 598.5 489.5 601.2 488.7 603.5 488.4 606.2 487.6 609.1 487.6 611.4 487.5 613.9 486.9 616.8 486.6 619.2 486.0 621.5 485.5 624.5 485.0 627.2 483.5 629.7 482.3 632.3 481.8 634.7 480.2 637.7 479.2 640.2 477.8 643.1 476.5 645.4 474.4 649.1 472.8 651.1 471.7 653.2M478.8 587.1 478.4 588.3 477.9 591.2 477.8 592.9 477.2 595.4 478.4 597.6 479.3 599.7 480.9 602.1 481.5 604.1 481.9 606.2 481.2 608.4 480.8 610.0 480.6 612.0 479.5 614.4 478.9 616.3 478.4 619.0 477.4 620.9 477.1 623.4 477.1 624.9 477.3 627.5 477.2 629.2 476.2 631.7 474.6 633.7 473.6 635.6 472.2 637.7 471.6 639.9 471.3 642.4 470.8 644.9 470.7 646.2M488.6 570.0 488.0 572.5 486.7 576.8 485.2 580.8 483.6 584.8 481.7 588.6 480.0 592.4 478.1 595.9 476.9 599.3 477.5 602.9 478.1 606.5 479.0 610.8 479.7 614.4 480.6 617.8 482.3 621.7 482.8 625.2 483.6 629.0 483.4 632.5 482.4 636.3 481.8 639.8 481.2 643.2 479.7 647.0 478.1 651.1 476.2 654.5 475.4 658.1 474.9 662.2 475.7 666.5 475.7 670.4 476.2 672.8M486.7 568.1 485.6 570.5 484.0 573.4 481.7 577.0 480.5 580.1 479.3 583.6 478.4 586.5 478.3 590.0 477.0 592.5 476.1 595.5 475.7 599.1 474.4 602.0 473.9 604.7 473.3 608.5 472.1 611.4 471.8 614.2 471.2 617.2 469.8 620.4 468.6 623.9 467.6 626.8 467.5 629.6 467.1 633.0 467.8 636.3 468.8 639.0 469.6 642.4 470.3 645.6 469.9 648.9 470.5 652.0 470.4 654.5M483.4 593.5 483.4 595.2 483.0 597.2 483.1 600.5 483.1 602.9 482.4 604.6 482.0 607.3 481.8 609.3 482.3 611.9 482.5 614.0 483.4 616.3 484.4 618.4 485.2 620.6 486.0 622.7 486.9 625.4 487.6 627.3 488.5 629.9 488.4 632.0 488.4 634.6 488.0 636.8 488.2 639.0 488.8 641.2 489.9 643.5 491.1 645.8 492.1 648.4 492.1 650.2 492.3 652.8 492.8 655.6 492.6 657.1M489.6 560.7 489.8 563.6 489.0 566.9 489.5 571.3 488.7 575.1 488.3 579.0 487.4 582.2 486.5 585.8 485.2 589.8 485.6 593.2 485.9 597.5 486.2 601.0 486.5 604.5 485.8 608.1 485.7 611.9 484.5 615.4 484.1 618.9 483.5 622.8 482.3 626.1 482.3 629.8 481.7 633.9 482.2 637.7 483.1 640.6 484.2 644.4 485.6 648.4 487.3 651.9 489.0 656.7 491.3 660.0 493.1 662.8M493.3 546.6 492.7 548.3 491.1 551.5 490.0 554.6 489.0 557.6 488.6 561.0 488.4 563.3 489.2 566.4 489.0 568.8 489.8 571.7 491.2 574.8 492.4 577.6 493.0 580.2 493.8 583.0 493.9 585.8 494.7 588.7 494.8 591.1 495.7 594.2 495.2 596.8 495.2 600.2 494.7 602.7 494.7 605.7 494.4 608.0 493.8 611.2 493.3 614.2 492.9 616.7 492.7 620.4 492.4 623.2 492.0 625.1M484.2 586.9 484.8 588.3 485.2 589.8 485.0 592.2 485.5 594.1 486.0 596.5 486.5 598.0 487.3 600.0 487.4 602.1 488.0 603.8 488.3 605.5 488.7 607.5 488.7 609.2 489.3 611.6 489.0 613.4 489.6 615.0 489.4 617.4 490.0 619.3 491.2 620.6 491.5 622.7 492.3 625.0 492.1 627.0 491.1 628.5 491.1 630.7 490.2 632.8 490.8 634.7 490.9 636.7 491.8 638.9 491.8 640.0M489.2 576.7 489.8 579.2 490.2 583.4 490.5 588.2 490.5 592.4 490.6 596.8 489.4 600.2 488.8 604.0 487.8 607.9 486.3 611.9 484.2 615.6 482.7 619.8 482.2 624.2 482.6 627.4 483.5 631.5 484.3 635.8 485.6 639.9 486.2 643.3 487.2 647.3 488.4 651.3 489.0 655.0 489.2 659.6 488.6 663.2 488.3 666.7 488.4 670.7 488.7 675.3 488.8 680.2 488.4 683.5 488.9 686.7M495.5 547.0 494.1 549.2 492.8 552.9 491.2 557.6 489.6 560.9 489.1 564.9 488.9 568.3 488.3 572.1 488.0 575.8 487.4 579.2 487.3 582.5 486.5 586.0 486.6 589.7 486.9 593.2 486.9 596.4 487.6 600.4 488.1 604.0 487.5 607.3 487.5 611.2 487.3 614.8 487.2 617.9 487.0 621.5 487.2 624.8 486.6 628.3 486.7 631.9 486.2 636.0 486.6 640.4 486.4 643.7 486.5 646.4M493.6 565.2 492.8 567.0 492.2 569.1 491.8 571.4 491.6 574.1 490.8 576.7 490.9 578.3 491.3 580.9 491.1 583.4 489.4 585.1 488.2 587.6 486.5 590.2 485.2 592.3 484.3 594.7 484.5 596.7 483.7 599.1 483.7 601.4 482.5 603.4 482.0 605.6 482.2 608.1 481.3 610.1 481.5 612.1 482.4 614.8 482.4 616.7 482.4 619.2 481.0 621.2 478.9 623.8 477.6 626.4 476.0 628.0M483.4 580.4 484.0 582.7 484.2 585.1 484.6 587.9 484.6 590.9 484.0 593.2 483.3 596.1 482.2 598.8 481.3 601.2 481.0 603.5 481.0 606.4 482.0 608.6 481.8 611.1 481.9 614.0 482.9 616.2 482.7 619.3 482.3 622.0 481.4 624.2 479.6 626.7 478.0 629.2 476.7 631.6 475.2 634.8 473.5 636.9 472.1 639.4 471.6 642.4 470.2 645.1 470.1 647.9 469.2 650.7 469.2 652.6M494.5 564.4 493.5 566.0 492.8 568.6 492.3 571.9 491.9 575.0 492.4 577.3 493.4 580.0 494.8 582.1 495.4 584.8 495.2 587.6 494.6 590.1 494.0 592.8 493.3 594.8 494.0 597.4 496.1 600.1 497.2 602.8 498.7 605.2 500.1 607.8 501.4 610.7 502.0 613.1 503.3 615.9 504.4 617.9 506.1 620.8 507.1 623.2 508.0 625.6 508.9 628.4 510.0 631.2 510.3 634.0 511.2 636.0" fill="none" stroke="#d0d0d0" stroke-width="1.4" stroke-linejoin="round"/>
<path d="M637.7 553.0 636.0 552.1 633.7 551.9 631.4 551.9 628.5 550.3 624.6 548.4 620.5 545.3 616.6 541.7 611.3 537.1 605.9 531.9 600.8 528.4 594.2 524.7 587.9 522.8 581.4 518.6 574.1 516.0 568.6 512.3 565.2 509.6 562.3 504.7 559.7 500.5 558.0 496.6 554.1 493.3 547.3 488.5 540.3 485.3 533.3 480.6 526.2 476.3 521.6 472.2 519.5 465.9 520.6 458.0 521.8 451.1 521.8 445.5 521.7 442.8 520.0 444.4 518.1 451.1 515.8 457.7 513.7 465.8 511.5 469.9M633.4 555.6 632.2 554.4 630.7 551.8 629.5 550.1 627.0 547.9 624.0 545.1 620.7 543.2 616.5 540.6 612.6 538.2 608.5 535.9 603.1 532.9 597.3 528.4 592.8 524.6 586.6 519.6 581.3 515.1 575.8 511.3 570.7 507.3 565.3 503.3 560.1 499.9 555.1 496.8 550.6 492.3 545.3 489.9 539.8 487.3 533.8 483.7 529.6 480.9 525.6 476.3 522.8 470.9 521.4 463.8 519.8 457.0 518.4 450.3 518.3 448.1 517.4 447.8 515.6 451.6 515.8 455.1 515.6 460.1 514.6 462.9M636.8 556.0 636.6 555.7 635.4 553.6 633.1 552.5 631.5 550.9 628.0 549.3 623.4 545.3 617.3 542.6 611.9 540.1 604.6 535.7 599.1 532.8 595.0 528.1 589.2 524.8 585.8 520.0 580.5 515.7 576.0 511.4 570.1 507.9 565.1 504.4 559.5 501.0 554.5 497.9 548.6 495.4 545.0 491.5 540.4 487.4 536.3 482.8 531.6 478.6 529.7 473.9 526.3 467.1 525.6 461.2 524.6 455.3 523.1 449.2 522.5 445.0M638.5 556.3 636.4 554.6 634.1 553.4 631.8 551.1 627.2 549.0 624.6 546.4 620.9 543.4 616.5 540.4 612.7 537.7 608.2 536.0 603.5 532.5 598.6 529.6 593.1 525.9 586.9 520.7 581.5 517.7 576.4 514.0 570.5 509.6 566.1 506.9 561.4 503.4 556.2 500.3 551.4 496.5 546.0 493.6 539.3 490.9 534.3 489.3 529.5 485.2 525.9 481.0 522.5 475.5 520.2 468.2 519.0 460.8 517.6 454.6 516.1 450.5 514.7 450.0 513.5 454.4 512.3 458.3 511.7 462.3 510.9 465.4M633.5 556.1 633.6 554.1 634.3 552.6 633.1 550.8 632.1 546.9 629.7 544.8 624.2 542.9 618.0 541.1 610.4 539.9 603.4 537.7 596.7 534.0 591.2 530.2 586.0 526.0 580.7 522.7 576.2 518.0 572.2 513.3 567.9 510.4 563.3 508.9 558.0 506.1 552.8 504.1 548.5 501.1 545.6 498.3 540.3 495.3 537.2 491.5 533.7 488.3 529.9 484.5 527.0 479.4 525.5 473.8 523.3 468.2 520.5 463.3 519.4 462.5 517.0 463.7 513.2 467.3 510.7 473.2 509.4 478.7 507.7 481.3M634.9 555.0 634.4 552.3 632.9 549.6 631.2 547.0 628.9 543.0 624.9 541.5 621.5 539.9 615.5 537.8 609.2 538.4 602.6 536.6 596.8 535.8 591.7 532.1 586.3 529.0 581.0 526.1 576.1 521.8 570.9 518.7 566.0 517.1 561.2 514.9 556.7 512.1 553.0 509.2 548.2 507.1 543.8 504.5 538.9 500.1 533.5 496.8 529.3 492.8 525.3 488.6 522.7 482.2 519.8 476.9 518.7 470.3 516.4 464.8 515.3 460.1M638.8 561.5 637.6 558.9 634.6 556.0 632.1 552.5 629.4 550.0 625.7 546.9 621.7 545.1 616.9 543.0 611.0 540.5 605.5 539.1 600.7 537.1 594.8 533.8 589.6 531.7 583.4 528.7 577.8 524.8 571.9 521.3 567.3 519.2 562.7 514.6 558.8 510.8 554.5 507.2 550.1 504.7 545.6 501.2 540.0 497.2 534.2 494.2 530.1 490.1 525.4 486.5 522.1 481.8 519.4 477.6 517.3 473.6 516.3 469.8 514.8 466.5M634.3 555.5 633.2 554.2 632.2 554.4 632.2 552.4 629.1 551.6 626.4 549.8 622.8 547.6 616.1 544.4 609.6 541.4 603.2 538.3 598.1 535.3 593.1 532.5 589.4 528.7 585.6 526.0 580.8 522.9 576.7 520.6 570.2 518.9 563.7 516.5 557.0 513.7 551.6 512.0 546.1 509.6 541.6 506.6 538.3 502.8 535.0 499.2 532.8 495.7 530.3 493.6 527.9 490.0 524.7 487.7 523.1 486.0 521.3 483.1 519.5 480.7 518.0 477.4 516.4 473.0 514.4 469.6 514.2 468.0 512.0 467.5 510.6 470.8 508.3 477.5 506.4 484.0 505.1 490.7 504.4 495.7M633.6 557.7 633.4 557.0 632.7 555.0 632.3 553.7 631.2 551.0 628.8 549.9 623.6 547.5 617.7 544.0 610.1 540.6 604.0 538.7 598.1 535.9 592.9 533.1 588.5 530.1 584.1 527.4 579.9 523.8 575.7 522.0 570.9 519.9 566.5 516.5 562.1 514.5 557.1 512.8 552.2 509.9 546.8 506.6 542.0 502.9 535.9 499.5 530.6 497.2 525.3 493.1 521.8 488.1 518.8 483.4 517.3 478.0 515.1 474.1 513.7 471.1M639.3 558.4 637.3 556.4 634.5 554.0 630.0 551.1 626.4 547.2 621.9 545.7 617.9 545.0 613.0 545.5 608.2 545.9 603.5 545.3 598.5 544.3 592.9 541.8 587.5 538.4 580.3 534.7 574.5 529.2 570.6 525.9 565.6 522.7 563.2 520.7 559.8 517.1 556.7 514.2 553.2 512.1 548.9 509.5 542.5 506.6 536.1 503.9 529.2 500.8 524.9 497.9 522.4 496.0 519.3 493.7 518.7 491.2 517.2 488.7 515.3 486.7 514.0 484.8 512.1 481.7 511.1 478.9 510.3 476.5 509.2 476.6 507.5 478.5 506.0 483.6 505.2 488.0 504.6 493.5 504.7 496.7M635.1 559.9 634.8 558.1 633.5 556.4 631.4 553.3 629.0 549.9 624.9 547.7 620.8 545.5 613.1 543.2 605.8 541.0 599.1 538.5 592.7 537.1 587.5 535.5 583.8 533.1 580.3 531.4 577.0 529.5 573.0 527.3 568.7 523.5 563.9 520.6 558.8 518.4 554.0 514.9 548.6 512.0 543.2 509.1 537.6 506.8 533.1 506.3 527.2 503.1 523.6 502.0 519.7 499.9 517.6 497.0 517.1 495.4 515.0 492.8 514.4 490.7 512.5 487.3 510.5 484.1 509.9 481.7 508.6 479.7 507.8 479.4 506.7 481.9 506.1 486.1 506.1 491.0 505.3 495.4 504.6 498.3M635.0 553.9 634.1 554.3 632.4 554.4 630.0 553.5 627.6 552.8 624.5 551.9 619.8 550.2 614.3 547.1 608.5 545.1 603.6 541.9 598.2 540.6 592.9 537.4 586.8 536.1 582.0 533.2 578.3 531.8 573.4 530.2 567.8 528.0 563.2 526.1 559.3 525.2 554.5 523.6 549.6 521.8 544.4 521.5 539.7 521.4 534.1 521.5 529.6 520.2 525.8 518.1 522.1 516.0 520.6 513.1 519.2 507.8 518.2 504.4 515.7 501.0 514.6 497.1 512.8 491.5 511.1 487.5 509.5 484.5 507.9 483.0 506.8 484.8 506.5 490.3 505.6 496.1 505.4 501.0 504.8 504.2M640.2 556.1 638.7 555.7 635.4 554.3 632.1 552.8 627.4 550.8 622.9 549.1 618.7 548.6 613.3 548.1 608.2 547.0 603.6 546.7 599.1 544.5 594.9 542.7 590.9 540.7 587.6 538.3 582.7 535.7 579.3 533.6 573.3 532.0 568.6 531.0 562.2 528.7 557.6 527.4 552.3 526.0 546.4 523.4 541.4 521.9 536.5 520.0 531.9 517.7 528.6 516.7 524.9 513.6 523.2 511.5 520.2 509.8 518.5 507.9 516.9 505.0 514.8 500.9 513.7 497.3 512.1 492.9 510.0 490.7 508.0 489.4 507.2 493.1 505.2 497.6 502.9 503.7 500.8 508.7 499.6 512.8M636.5 559.1 636.0 557.9 634.7 556.0 632.6 553.2 629.9 551.8 626.9 550.0 623.1 548.5 618.4 546.9 613.8 545.7 608.0 544.0 603.5 542.5 597.4 542.3 591.4 540.6 585.2 539.5 578.5 537.3 573.3 535.2 568.0 533.8 563.6 532.5 559.8 530.2 555.3 527.6 550.8 526.9 545.8 524.4 540.5 522.5 534.8 520.4 530.9 518.9 525.7 517.0 523.6 514.6 520.1 512.3 517.9 509.0 516.4 505.9 514.1 503.7 512.0 501.7 510.6 500.9 508.3 499.8 507.0 497.9 506.1 497.1M638.2 557.2 635.3 555.4 632.5 554.9 629.0 552.2 624.2 551.2 621.4 549.4 616.8 548.1 612.9 546.2 609.5 546.1 604.9 543.8 601.2 543.3 595.1 540.7 589.7 540.2 583.3 537.8 575.9 536.2 571.1 534.6 566.4 532.5 562.4 530.9 557.6 529.6 554.0 528.0 549.9 526.2 545.0 525.9 539.0 523.8 534.2 523.7 530.0 522.6 525.8 521.3 522.1 519.2 520.2 516.1 518.3 513.7 517.4 511.4 515.3 508.3 514.3 506.9 512.8 504.5 510.4 501.5 509.8 499.5 509.0 498.4M634.6 553.1 633.1 552.3 631.4 551.1 629.2 549.3 627.5 548.1 624.3 547.1 621.6 546.3 616.9 545.1 613.1 544.7 607.9 544.2 603.6 543.8 598.2 543.1 591.2 541.0 584.3 538.9 577.6 538.2 572.2 535.2 568.7 533.9 564.7 532.0 561.5 529.5 557.1 528.5 552.2 527.4 547.3 526.2 540.9 524.9 534.7 525.6 530.1 525.2 524.9 522.9 522.0 521.5 519.7 519.3 517.7 516.0 515.5 513.1 514.3 510.8 513.3 507.5 511.5 504.2 509.1 502.1 507.8 499.5 506.8 498.8 504.8 500.7 503.6 505.3 501.8 511.1 499.6 515.3 499.2 518.6M640.5 558.6 638.4 558.0 636.6 555.6 633.8 553.7 632.0 551.5 627.2 550.5 623.2 549.0 617.2 549.1 611.4 547.8 606.1 548.3 600.7 547.2 594.8 544.9 590.4 543.5 585.6 541.4 580.2 538.8 575.0 536.4 570.5 534.3 565.6 533.2 559.2 530.8 554.8 527.4 549.7 526.3 545.1 525.0 540.8 524.6 537.1 525.1 533.1 525.4 530.8 523.7 528.0 521.6 525.7 519.7 523.3 516.9 521.4 513.3 519.3 510.5 517.0 507.9 513.7 505.5 510.8 502.7 508.3 500.2 506.1 499.3 504.8 500.3 503.4 502.9 502.4 506.8 501.5 508.9 501.3 511.3M635.5 559.4 634.3 558.6 633.3 558.0 630.5 556.6 628.3 555.1 625.6 552.6 620.6 551.2 616.9 550.3 611.1 547.9 606.8 546.5 601.0 545.2 595.9 542.9 590.1 542.3 583.5 542.2 577.2 540.7 572.6 540.4 567.7 538.1 562.5 537.5 558.5 536.0 553.1 533.5 548.3 532.2 543.9 530.8 537.9 529.1 533.4 528.7 527.8 526.7 525.2 524.5 521.9 522.8 519.3 520.2 519.1 517.2 517.3 513.9 516.6 510.4 513.4 508.1 512.5 503.9 509.3 500.9 508.3 498.1 506.6 496.0M633.4 554.8 632.3 554.3 631.2 551.5 628.4 549.6 626.0 548.1 623.2 547.1 618.6 547.4 614.4 546.5 610.2 546.3 605.7 547.1 600.1 546.4 595.5 544.9 590.9 542.7 586.8 541.0 582.4 539.5 577.1 536.9 571.9 536.0 566.8 533.9 561.2 533.0 556.8 532.0 551.8 531.1 546.5 530.2 541.4 530.5 536.3 529.9 532.1 529.3 528.4 528.4 525.4 526.9 522.2 525.6 519.7 524.5 518.1 522.7 515.1 519.8 513.1 517.8 511.9 515.1 510.0 511.0 506.9 509.7 505.4 509.6 502.9 513.1 501.0 519.0 497.6 525.7 496.1 531.8 494.0 536.4M634.8 555.2 634.0 555.1 634.1 552.7 632.8 552.7 632.1 551.1 629.2 549.0 625.1 548.6 618.8 548.3 611.8 547.7 605.9 547.3 599.7 546.3 595.2 544.0 592.1 541.7 589.1 539.6 586.5 538.8 581.4 536.1 575.3 535.9 568.4 534.0 561.4 533.9 554.2 532.7 548.9 532.3 543.9 531.5 539.6 529.9 535.8 528.9 533.1 526.6 530.4 526.4 526.7 525.4 525.6 523.8 523.2 523.4 520.8 521.8 518.0 521.0 515.7 519.1 511.3 516.0 508.9 512.9 505.0 511.5 503.7 509.3M638.7 556.0 637.8 555.3 635.7 552.9 632.4 550.3 630.1 547.9 627.3 547.1 622.4 546.6 618.1 547.8 613.6 549.2 607.6 549.2 601.6 549.8 596.6 548.2 590.3 545.8 584.6 542.8 577.6 541.5 572.1 539.1 567.1 538.2 562.9 537.6 558.0 538.3 553.3 538.1 548.8 537.4 543.6 535.8 539.2 534.8 534.1 532.4 529.7 531.9 525.6 529.4 523.3 528.0 520.5 526.5 519.6 526.3 518.2 524.4 516.4 522.9 513.1 519.7 511.3 517.5 508.1 513.9 505.3 510.4 503.8 509.1M634.8 558.7 633.6 557.2 631.3 557.3 628.9 554.9 627.0 553.8 623.3 552.2 619.4 550.5 614.4 548.7 609.5 547.6 604.4 545.2 600.1 545.1 595.7 543.6 590.8 542.2 585.6 541.3 580.6 540.6 574.8 540.0 569.5 539.6 563.3 538.1 557.1 538.3 552.4 537.3 545.7 535.5 541.5 534.7 535.3 535.1 531.6 535.1 527.0 533.7 522.9 533.7 520.1 532.6 517.4 530.9 515.3 528.8 513.2 527.7 511.2 524.6 508.8 523.1 506.9 519.2 505.1 516.4 502.1 514.2 501.2 513.1 499.6 516.5 497.8 521.0 495.7 527.5 494.3 533.6 493.8 537.1M638.2 561.2 636.3 560.6 635.2 558.0 632.0 556.9 629.8 554.3 626.9 552.6 623.0 551.9 617.7 549.7 613.6 548.2 608.2 545.8 602.2 545.1 595.8 544.2 587.9 543.4 580.2 542.7 574.2 541.6 567.5 541.2 561.9 541.3 558.7 540.8 554.6 539.4 551.5 539.7 547.1 537.8 542.6 537.2 537.7 536.5 531.2 534.9 526.2 533.3 522.6 530.5 519.8 528.8 518.2 526.5 517.5 523.8 516.3 521.9 515.2 518.8 512.5 516.6 511.6 514.2 509.4 512.9 507.0 510.9 505.1 511.5 503.4 514.5 500.9 519.7 499.0 524.8 497.2 530.5 496.0 534.2M639.2 554.9 637.1 555.0 634.4 553.2 630.6 553.1 627.4 552.0 623.7 551.3 620.3 551.2 615.7 550.8 612.0 550.8 607.9 550.6 603.5 549.9 596.8 548.3 588.9 547.0 581.5 544.8 574.9 543.0 569.4 542.1 565.0 540.7 560.9 540.8 558.0 541.0 554.9 541.0 550.9 539.2 546.6 537.7 540.6 535.9 535.0 532.1 530.2 530.8 526.2 528.7 522.2 526.8 518.7 525.1 516.2 525.0 513.8 524.2 511.7 522.7 508.8 521.4 506.6 521.0 503.2 520.1 501.9 518.5 500.2 518.1M636.4 559.2 635.3 557.8 633.7 555.1 631.1 552.9 628.0 550.8 625.5 549.6 619.7 549.8 614.4 549.9 609.0 551.6 602.4 553.1 597.5 553.0 592.8 551.7 589.0 549.4 584.7 546.7 580.0 543.7 574.8 540.9 569.7 540.5 563.3 540.1 557.2 538.9 551.5 539.2 545.9 537.7 542.3 537.5 538.2 537.0 535.7 537.3 532.0 536.6 529.3 535.5 525.6 534.0 522.2 532.4 519.6 530.4 516.3 527.7 512.5 527.2 509.5 523.9 506.2 522.2 503.5 520.3 500.5 519.5 498.5 519.4 497.1 522.5 496.2 526.9 495.4 531.1 495.7 535.5 494.8 539.0M636.3 556.7 635.5 556.4 634.5 556.4 632.5 555.5 629.3 556.1 626.7 555.5 622.3 555.6 616.3 555.3 610.6 554.2 605.1 554.7 599.5 553.1 594.2 551.9 588.8 551.0 583.9 549.7 579.0 548.3 574.3 547.1 568.6 544.8 563.6 543.3 558.8 541.8 554.2 540.8 548.5 538.5 543.4 537.2 537.9 536.7 532.3 537.0 527.0 537.0 522.8 534.6 519.7 533.3 518.8 532.0 517.0 530.0 515.4 527.1 514.3 525.8 512.1 524.2 509.4 523.4 506.2 522.4 503.1 521.6 501.7 520.9M633.1 556.0 632.8 555.8 632.2 555.2 631.7 553.8 629.4 552.7 627.5 552.5 621.5 551.9 615.7 551.6 608.6 551.8 602.1 551.4 596.1 551.1 592.2 550.2 588.6 550.4 585.6 549.3 581.9 548.6 577.6 547.8 572.4 546.3 566.7 544.9 561.0 543.6 555.4 542.6 549.0 541.9 544.1 541.6 539.5 541.5 534.7 540.0 531.8 540.5 527.1 539.9 523.7 538.9 520.5 537.9 518.2 537.3 514.9 535.8 512.4 535.1 509.2 533.8 506.5 531.8 502.6 531.2 500.1 529.5 498.0 528.6M637.8 557.7 636.5 556.2 633.4 555.7 631.1 553.2 627.6 551.9 624.4 551.3 619.1 550.4 614.4 550.7 610.6 550.2 604.2 550.2 599.4 549.4 595.1 548.9 589.0 548.1 584.7 547.6 579.1 548.1 574.0 546.2 569.3 545.1 564.5 543.4 559.6 542.2 553.7 540.0 549.3 537.7 545.2 536.6 540.0 534.9 535.8 535.0 531.1 532.6 527.3 532.0 523.9 530.5 520.8 530.1 519.2 528.9 517.0 527.4 514.1 526.6 510.9 526.4 507.3 526.1 503.0 525.8 499.3 526.0 497.7 526.4M636.4 556.4 634.8 556.1 632.8 555.4 631.3 554.5 627.8 554.8 624.4 554.2 620.5 553.1 616.0 553.2 610.4 553.4 604.6 552.8 600.2 552.1 594.5 551.5 588.3 550.7 583.8 549.5 578.2 549.0 572.9 548.2 568.6 546.3 564.9 546.2 560.9 544.8 558.1 543.1 553.9 542.6 548.2 542.1 542.9 540.6 536.6 539.9 532.4 539.8 527.7 538.4 524.3 537.7 521.1 535.6 519.9 534.5 517.4 534.1 515.4 533.7 511.1 532.4 507.6 532.7 503.8 532.4 499.9 531.9 498.3 531.9M635.3 554.7 633.9 555.1 633.3 555.8 631.9 555.8 630.3 555.3 627.3 555.9 624.0 556.9 619.2 556.4 612.7 557.0 607.1 556.7 602.1 555.8 596.2 554.5 590.1 552.6 584.5 551.0 579.3 548.1 574.5 546.3 569.0 546.4 565.8 546.7 561.8 547.1 557.8 547.6 554.4 546.9 549.7 545.7 545.1 543.7 540.4 541.4 535.7 538.7 531.8 537.4 528.2 537.2 523.5 537.0 520.4 536.8 516.3 537.7 514.1 537.1 510.3 534.9 506.7 533.2 503.4 531.3 500.8 530.2 497.7 530.5 496.2 534.3 492.5 539.3 490.3 545.4 487.9 551.2 486.9 554.5M638.0 561.6 636.5 560.8 632.5 558.9 629.2 557.5 625.6 556.3 621.7 555.7 617.9 553.8 614.0 552.0 608.9 550.5 604.2 550.6 599.6 548.8 595.0 548.8 590.1 549.0 585.6 549.6 581.2 549.8 576.2 549.0 571.3 547.3 565.6 546.7 561.1 543.9 556.6 542.6 551.0 542.6 545.8 542.1 540.7 542.0 535.6 541.9 531.1 542.2 526.0 541.9 522.0 540.7 519.5 539.7 515.8 538.6 513.1 537.8 509.8 538.2 506.9 536.7 503.4 535.2 500.6 534.9 498.1 534.2 495.8 536.1 494.4 538.4 492.1 543.0 490.9 548.5 489.0 552.5 488.6 556.1M635.2 559.0 633.6 558.5 631.9 557.3 631.2 555.9 627.7 553.9 626.0 554.2 621.8 554.0 618.8 552.9 614.6 553.0 609.2 553.4 604.1 553.8 598.4 554.2 592.6 553.6 586.5 553.5 580.5 552.5 574.9 551.9 568.8 550.5 563.7 550.0 557.8 549.3 552.6 547.8 547.3 546.5 543.6 545.8 540.0 546.5 535.6 546.0 531.4 545.9 528.4 545.3 524.3 545.4 520.2 544.4 516.5 544.9 513.5 545.2 509.4 544.0 505.8 543.2 501.6 542.3 498.3 540.6 494.0 541.0 491.4 542.2 489.0 547.2 487.2 554.3 484.9 560.5 483.3 567.5 482.2 572.4M633.6 559.2 632.9 557.9 630.4 557.1 627.7 555.8 625.3 554.2 623.1 554.3 620.8 553.1 618.1 553.4 615.1 553.9 612.4 554.2 607.4 553.5 602.3 552.9 594.4 552.1 587.7 550.1 579.2 548.9 574.1 546.8 569.1 547.6 566.1 546.8 564.0 547.2 559.7 548.1 556.7 548.0 549.6 546.4 543.1 546.3 537.1 544.4 530.0 544.2 523.4 543.9 519.4 543.1 516.4 543.5 513.0 543.1 510.1 543.5 507.3 544.4 503.7 543.7 500.9 543.0 497.3 541.4 493.5 541.8 491.3 540.7 490.4 543.4 489.2 544.5 487.9 547.0 487.9 549.6 487.6 551.4M640.0 562.0 638.1 561.4 636.7 560.5 633.1 558.3 629.8 557.7 626.4 556.7 621.6 555.9 616.5 555.0 611.2 555.3 604.7 554.6 598.9 553.2 594.3 552.4 588.9 552.8 582.5 551.8 577.6 551.5 572.1 550.2 567.6 549.7 562.7 549.6 557.3 550.1 553.1 549.1 548.5 550.0 543.8 549.3 539.9 549.5 535.4 549.0 531.2 549.2 527.6 549.1 523.7 548.5 520.6 547.7 518.3 546.1 514.1 545.1 511.0 545.7 508.2 544.0 503.3 544.2 500.2 544.1 497.3 545.1 493.3 547.2 491.3 550.4 488.7 555.7 487.0 562.0 486.1 567.5 485.0 571.7M633.9 553.6 632.6 553.7 630.6 554.5 628.5 556.3 627.3 557.0 623.2 557.3 619.8 556.5 615.8 555.7 610.2 554.3 605.0 554.6 600.4 553.7 595.4 552.7 590.2 553.0 585.0 553.1 579.4 552.9 574.4 552.8 569.8 553.1 564.9 552.5 559.0 551.1 554.5 550.2 549.1 549.4 545.4 549.7 541.5 548.1 537.5 548.0 533.5 546.8 530.2 545.8 527.0 545.3 522.9 543.4 519.8 542.6 517.2 540.6 513.2 539.6 510.0 539.4 505.9 538.6 502.1 537.6 498.3 538.6 495.7 539.5 492.8 541.4 492.2 543.7 490.7 546.0 488.9 548.7 488.6 551.0M640.1 556.2 638.3 556.9 637.6 557.1 635.7 556.4 632.3 556.7 629.8 556.5 624.7 555.7 618.3 555.0 612.2 554.6 606.8 553.6 600.2 553.8 596.4 553.0 591.0 553.4 586.4 553.1 582.7 553.5 577.6 554.2 572.7 553.6 567.5 553.6 562.3 553.4 555.6 552.5 550.2 550.7 545.4 549.4 540.1 547.8 536.1 546.8 531.0 544.9 527.2 543.9 522.8 543.4 520.1 543.5 518.6 543.5 515.0 544.5 512.5 544.5 508.4 545.2 505.0 545.0 500.8 546.3 497.3 546.5 494.2 547.0M633.2 555.0 631.8 555.1 630.7 555.0 629.1 555.1 626.8 555.5 623.5 554.2 619.6 554.5 615.1 552.0 609.3 550.6 604.6 550.7 599.5 549.8 594.2 549.9 589.1 550.4 583.4 550.6 578.9 550.6 573.7 552.2 568.1 552.0 564.0 552.1 559.5 551.5 554.1 551.1 549.2 551.2 544.4 551.5 540.0 551.1 535.5 551.7 531.5 552.0 527.1 551.3 522.0 551.1 518.1 551.6 514.3 551.5 511.5 551.4 508.0 551.3 503.8 550.8 499.7 550.5 496.2 549.4 493.2 550.6 491.1 551.8 487.2 557.3 484.8 563.4 482.8 570.3 479.6 577.1 478.4 580.7M633.0 561.7 632.3 560.4 631.4 560.2 629.7 559.3 626.5 557.6 623.5 557.5 620.4 556.7 614.8 556.9 608.9 555.9 602.9 556.5 597.4 555.3 593.6 555.2 588.2 556.3 583.7 556.5 579.1 557.1 574.8 556.5 570.7 556.5 566.9 555.3 562.7 554.3 558.9 553.9 554.1 552.6 549.7 552.3 543.3 553.5 536.9 553.7 531.4 554.2 525.6 555.0 521.6 555.2 518.1 555.5 514.4 555.7 511.0 556.1 507.4 555.7 503.8 554.6 500.5 554.7 496.0 554.5 493.6 554.6 491.2 554.3 490.4 556.1 489.4 557.2 488.5 559.6 489.0 561.1 488.2 562.4M637.5 558.0 635.6 558.4 635.0 557.5 632.2 558.6 630.5 558.3 627.5 557.4 624.3 558.3 619.9 558.4 616.9 558.4 612.6 557.3 606.7 558.4 601.0 558.0 595.2 559.1 587.7 558.9 581.4 560.1 575.5 559.3 570.2 559.1 566.7 559.6 562.4 559.4 559.1 558.8 554.4 558.2 548.2 557.7 542.9 557.4 537.0 556.1 529.9 555.8 525.0 555.7 521.5 554.9 516.8 555.8 514.6 557.5 511.4 558.3 508.1 558.8 503.6 560.3 499.4 559.8 495.9 561.4 492.8 561.5 489.6 561.2M633.1 554.4 631.8 555.5 630.0 556.6 628.3 558.5 626.0 560.3 622.7 559.9 618.7 560.5 614.9 560.5 609.5 558.5 605.7 559.2 600.1 558.3 595.2 558.0 590.3 558.7 585.4 558.6 579.5 559.1 575.0 559.4 570.0 560.0 564.0 559.7 559.3 559.3 555.2 558.6 550.1 559.3 544.4 559.0 538.6 558.2 532.6 559.1 527.6 558.5 523.1 559.1 519.3 559.1 515.9 560.0 512.6 561.9 509.9 562.1 508.0 562.7 504.6 562.4 499.9 562.6 496.9 562.7 493.7 563.0 489.4 564.6 486.2 567.1 483.7 571.2 480.8 577.7 479.6 581.5 477.3 584.9M638.9 553.3 636.5 553.4 634.1 555.7 631.6 556.2 627.6 556.8 624.5 558.7 620.0 559.4 616.2 559.4 612.4 559.8 608.1 560.1 603.6 559.8 598.5 561.3 593.7 561.3 588.5 561.4 582.3 562.0 577.6 562.9 571.7 563.2 565.8 564.2 560.8 564.5 555.0 564.6 550.4 564.7 545.7 564.3 541.3 564.0 536.7 563.4 532.3 564.2 527.5 563.2 524.0 564.2 520.0 564.8 515.9 565.4 510.8 566.1 506.5 566.3 501.7 568.7 496.0 569.6 490.6 569.8 485.6 572.5 482.2 572.8 480.8 574.8 480.3 576.5 480.1 577.5 480.5 578.6 480.6 579.7M634.0 561.9 632.2 562.2 631.7 561.3 629.2 560.9 627.0 561.7 623.0 561.8 620.0 561.6 615.0 562.3 608.4 562.8 603.9 563.5 598.8 564.1 592.9 564.5 588.4 563.1 583.2 562.8 579.0 562.6 574.5 561.8 568.9 563.1 564.6 563.3 560.5 563.6 555.6 563.6 550.4 564.5 547.2 565.6 542.1 565.5 538.2 565.6 534.2 566.8 530.3 566.4 525.7 567.1 521.6 567.1 517.6 566.3 513.1 566.5 510.0 566.9 504.2 568.2 498.7 569.2 494.6 570.4 488.8 571.2 486.2 571.5M639.4 558.2 637.8 559.6 636.8 560.4 634.5 562.5 630.3 563.2 628.0 563.5 622.4 563.2 617.4 563.1 610.8 562.3 604.9 561.5 598.7 561.2 593.0 562.4 588.3 562.7 582.4 564.0 577.5 564.8 573.0 565.3 568.7 565.1 565.1 564.6 561.0 565.0 556.6 565.0 552.4 564.7 547.3 566.5 540.5 568.3 533.8 572.3 528.0 574.0 522.5 575.4 517.1 577.6 513.5 577.6 509.7 578.0 505.2 579.1 501.6 579.0 497.3 579.4 491.4 580.2 487.1 580.8 482.8 582.0 479.4 582.9 478.0 586.0 476.5 588.4 476.4 591.7 476.3 595.7 476.1 597.2M639.6 561.0 637.2 561.1 634.7 561.1 630.9 559.9 626.2 560.6 622.9 561.1 618.8 560.4 614.5 561.1 611.1 562.3 606.2 564.1 601.7 564.1 597.9 565.4 592.0 566.8 587.0 567.5 581.6 567.9 577.0 567.6 571.1 568.2 566.2 567.7 559.8 566.4 554.9 566.1 549.6 567.6 544.9 567.9 541.4 570.3 537.7 572.5 533.5 574.9 529.5 577.3 523.7 577.7 519.2 578.7 514.5 579.7 508.9 580.3 504.9 580.9 498.8 581.9 493.7 583.3 487.6 585.1 483.6 587.1 480.0 587.7M634.2 556.2 634.2 557.9 632.5 562.1 631.7 565.4 630.8 568.0 628.2 569.0 624.4 569.7 618.1 567.0 613.2 564.4 606.2 563.1 601.9 562.4 595.7 561.7 590.7 563.0 586.4 566.0 582.2 566.7 576.9 568.7 571.6 569.1 566.7 570.4 561.6 572.3 557.8 572.4 551.9 573.3 546.9 573.7 541.3 575.0 534.7 574.9 530.0 575.0 524.8 576.0 519.5 576.3 514.6 578.1 510.0 579.6 505.9 580.3 501.8 581.3 496.5 583.7 490.8 585.3 484.6 587.8 479.9 589.6 476.6 591.0M639.1 554.3 636.9 555.5 635.2 557.8 632.1 560.0 629.1 563.3 625.1 565.4 620.8 565.7 615.0 566.4 608.8 567.2 603.6 568.2 597.7 567.6 594.3 568.5 590.0 569.6 585.3 568.9 581.8 569.5 576.5 569.5 570.9 570.7 564.0 570.9 558.4 572.5 551.2 572.5 545.7 573.5 541.3 575.8 537.1 576.6 534.4 578.7 530.6 580.6 526.7 581.5 522.7 583.1 517.4 585.6 511.5 586.8 507.1 587.7 502.0 589.0 495.7 592.1 489.4 594.1 483.1 595.9 478.0 597.8 474.3 598.8M638.7 559.8 637.9 560.7 636.5 561.3 634.1 563.6 632.8 564.8 628.1 565.6 622.8 566.1 616.9 567.8 608.4 568.4 602.3 569.1 595.5 569.4 592.0 569.9 587.7 570.9 584.6 571.3 581.3 572.1 577.3 573.5 572.7 574.8 567.0 577.3 561.2 579.4 555.4 582.0 550.1 583.0 544.9 583.9 541.0 583.8 534.8 582.8 529.9 583.7 524.9 584.3 521.0 586.0 515.8 587.7 511.0 590.7 506.4 593.3 501.4 595.6 496.1 596.6 489.8 598.2 484.5 599.4 478.7 601.1 475.2 602.1" fill="none" stroke="#696969" stroke-width="1.45" stroke-linejoin="round"/>
<path d="M641.6 557.9 640.9 557.9 639.9 557.9 638.7 557.8 637.5 557.5 636.3 556.9 635.1 556.1 633.8 555.4 632.5 555.0 631.3 555.1 630.0 555.5 628.8 556.1 627.6 556.7 626.4 557.4 625.2 558.2 623.9 558.8 622.7 559.1 621.5 558.9 620.3 558.3 619.1 557.5 617.7 556.7 616.2 555.7 614.6 554.6 612.9 553.4 611.1 552.5 609.2 551.9 607.1 551.5 605.0 551.2 602.9 550.9 600.9 550.5 598.9 550.2 596.8 549.7 594.6 549.2 592.3 548.5 589.9 547.6 587.4 546.7 584.7 546.0 581.8 545.5 578.7 545.0 575.5 544.7 572.4 544.3 569.5 544.0 566.7 543.7 563.6 543.3 560.0 542.7 555.3 541.8 549.8 540.6 544.4 539.4 540.0 538.4 537.0 537.7 534.9 537.1 533.0 536.6 530.7 536.0 527.7 535.4 524.4 534.8 521.2 534.1 518.3 533.5 515.9 532.9 513.9 532.3 512.0 531.7 510.1 531.0 508.1 530.2 506.0 529.4 504.2 528.5 502.7 527.7 501.7 526.9 501.0 526.1 500.5 525.3 500.2 524.4 500.0 523.3 500.0 522.2 500.1 520.9 500.2 519.5 500.4 517.6 500.6 515.4 500.8 513.4 501.0 512.0" fill="none" stroke="#800080" stroke-width="3.4" stroke-linejoin="round" stroke-linecap="square"/>
<path d="M641.6 558.3 641.2 558.1 640.7 557.8 640.0 557.3 639.1 556.7 638.0 555.8 636.8 554.6 635.5 553.5 634.2 552.5 633.0 551.7 631.9 551.0 630.7 550.5 629.2 550.1 627.4 549.9 625.3 549.7 623.1 549.8 621.0 550.1 619.0 550.7 616.9 551.7 614.9 552.6 612.8 553.4 610.7 553.9 608.5 554.4 606.5 554.6 604.5 554.6 602.7 554.2 601.1 553.6 599.5 552.8 597.9 551.7 596.3 550.4 594.7 548.8 593.1 547.0 591.3 545.1 589.4 543.0 587.5 540.7 585.4 538.3 583.1 536.1 580.6 534.1 578.0 532.1 575.3 530.3 572.4 528.6 569.4 527.2 566.3 526.0 563.1 524.9 560.0 523.7 556.8 522.4 553.6 521.1 550.5 519.9 547.7 518.9 545.4 518.3 543.4 518.0 541.5 517.7 539.5 517.3 537.4 516.6 535.2 515.8 533.2 514.9 531.2 514.0 529.4 513.1 527.7 512.1 526.1 511.0 524.6 509.9 523.1 508.8 521.6 507.6 520.2 506.3 518.9 504.9 517.7 503.4 516.5 501.8 515.5 500.1 514.7 498.3 514.1 496.5 513.6 494.6 513.3 492.5 513.1 490.1 513.1 487.3 513.4 484.2 513.6 481.0 513.9 477.7 514.1 474.1 514.3 470.3 514.6 466.9 514.7 464.5" fill="none" stroke="#000" stroke-width="4.1" stroke-linejoin="round" stroke-linecap="square"/>
<path d="M300.14 89.00V1051.28M740.43 89.00V1051.28M1180.71 89.00V1051.28M1621.00 89.00V1051.28M80.00 310.27H1621.00M80.00 538.51H1621.00M80.00 781.85H1621.00M80.00 1051.28H1621.00" stroke="#000" stroke-width="1.05" stroke-dasharray="1.05 1.72" fill="none"/>
</g>
<rect x="80.5" y="89.5" width="1541" height="962" fill="none" stroke="#000" stroke-width="1.3"/>
<rect x="1665.30" y="910.75" width="20.30" height="29.25" fill="#e3eef9"/><rect x="1665.30" y="881.89" width="20.30" height="29.25" fill="#dceaf6"/><rect x="1665.30" y="853.04" width="20.30" height="29.25" fill="#d5e5f4"/><rect x="1665.30" y="824.18" width="20.30" height="29.25" fill="#cee0f2"/><rect x="1665.30" y="795.33" width="20.30" height="29.25" fill="#c7dcef"/><rect x="1665.30" y="766.48" width="20.30" height="29.25" fill="#bdd7ec"/><rect x="1665.30" y="737.62" width="20.30" height="29.25" fill="#b2d2e8"/><rect x="1665.30" y="708.77" width="20.30" height="29.25" fill="#a5cde3"/><rect x="1665.30" y="679.92" width="20.30" height="29.25" fill="#99c7e0"/><rect x="1665.30" y="651.06" width="20.30" height="29.25" fill="#8abfdd"/><rect x="1665.30" y="622.21" width="20.30" height="29.25" fill="#7cb7da"/><rect x="1665.30" y="593.35" width="20.30" height="29.25" fill="#6dafd7"/><rect x="1665.30" y="564.50" width="20.30" height="29.25" fill="#60a7d2"/><rect x="1665.30" y="535.65" width="20.30" height="29.25" fill="#549fcd"/><rect x="1665.30" y="506.79" width="20.30" height="29.25" fill="#4997c9"/><rect x="1665.30" y="477.94" width="20.30" height="29.25" fill="#3e8ec4"/><rect x="1665.30" y="449.08" width="20.30" height="29.25" fill="#3484bf"/><rect x="1665.30" y="420.23" width="20.30" height="29.25" fill="#2b7bba"/><rect x="1665.30" y="391.38" width="20.30" height="29.25" fill="#2171b5"/><rect x="1665.30" y="362.52" width="20.30" height="29.25" fill="#1a68ae"/><rect x="1665.30" y="333.67" width="20.30" height="29.25" fill="#135fa7"/><rect x="1665.30" y="304.82" width="20.30" height="29.25" fill="#0b559f"/><rect x="1665.30" y="275.96" width="20.30" height="29.25" fill="#084c95"/><rect x="1665.30" y="247.11" width="20.30" height="29.25" fill="#084387"/><rect x="1665.30" y="218.25" width="20.30" height="29.25" fill="#083979"/><rect x="1665.30" y="189.40" width="20.30" height="29.25" fill="#08306b"/>
<rect x="1665.30" y="189.40" width="20.30" height="750.20" fill="none" stroke="#000" stroke-width="1.1"/>
<path d="M1685.60 939.50h4.9M1685.60 795.50h4.9M1685.60 651.50h4.9M1685.60 506.50h4.9M1685.60 362.50h4.9M1685.60 218.50h4.9" stroke="#000" stroke-width="1.1"/>
<rect x="1274.4" y="874.5" width="339.3" height="169" rx="3" ry="3" fill="#fff" fill-opacity="0.8" stroke="#000" stroke-width="1.1"/><path d="M1281.80 887.20H1314.60" stroke="#696969" stroke-width="1.40" stroke-linecap="square"/><path d="M1281.80 910.65H1314.60" stroke="#ff4500" stroke-width="1.40" stroke-linecap="square"/><path d="M1281.80 934.10H1314.60" stroke="#808000" stroke-width="1.40" stroke-linecap="square"/><path d="M1281.80 957.55H1314.60" stroke="#008000" stroke-width="1.40" stroke-linecap="square"/><path d="M1281.10 981.00H1314.10" stroke="#800080" stroke-width="4.20" stroke-linecap="square"/><path d="M1281.10 1004.45H1314.10" stroke="#000000" stroke-width="4.20" stroke-linecap="square"/><path d="M1294.65 1025.15A4.60 4.60 0 1 0 1302.07 1026.46" fill="none" stroke="#000" stroke-width="2.5"/><path d="M1298.0 1023.3H1304.0V1026.1H1300.7V1029.6H1298.0Z" fill="#000"/><path d="M1293.6 1025.8L1295.2 1024.2L1296.4 1026.0Z" fill="#000"/>
<rect x="25.5" y="1137.5" width="1640" height="40.6" fill="#9e0142" stroke="#000" stroke-width="1.1"/>
<path d="M25.50 1178.1v5.4M66.50 1178.1v5.4M107.50 1178.1v5.4M148.50 1178.1v5.4M189.50 1178.1v5.4M230.50 1178.1v5.4M271.50 1178.1v5.4M312.50 1178.1v5.4M353.50 1178.1v5.4M394.50 1178.1v5.4M435.50 1178.1v5.4M476.50 1178.1v5.4M517.50 1178.1v5.4M558.50 1178.1v5.4M599.50 1178.1v5.4M640.50 1178.1v5.4M681.50 1178.1v5.4M722.50 1178.1v5.4M763.50 1178.1v5.4M804.50 1178.1v5.4M845.50 1178.1v5.4M886.50 1178.1v5.4M927.50 1178.1v5.4M968.50 1178.1v5.4M1009.50 1178.1v5.4M1050.50 1178.1v5.4M1091.50 1178.1v5.4M1132.50 1178.1v5.4M1173.50 1178.1v5.4M1214.50 1178.1v5.4M1255.50 1178.1v5.4M1296.50 1178.1v5.4M1337.50 1178.1v5.4M1378.50 1178.1v5.4M1419.50 1178.1v5.4M1460.50 1178.1v5.4M1501.50 1178.1v5.4M1542.50 1178.1v5.4M1583.50 1178.1v5.4M1624.50 1178.1v5.4M1665.50 1178.1v5.4M20.3 1158.5h5" stroke="#000" stroke-width="1.1"/>
<g opacity="0.999">
<text id="t0" x="79.39" y="22.00" font-size="17.42" font-weight="bold" fill="#000" textLength="449.26" lengthAdjust="spacingAndGlyphs">Maximum forecast trajectory duration : 10 days</text>
<text id="t1" x="79.38" y="41.30" font-size="17.42" font-weight="bold" fill="#000" textLength="247.78" lengthAdjust="spacingAndGlyphs">Intercept distance: 300km</text>
<text id="t2" x="79.40" y="60.60" font-size="17.42" font-weight="bold" fill="#000" textLength="290.56" lengthAdjust="spacingAndGlyphs">Intercept RW2 (EPS):  30km/h2</text>
<text id="t3" x="79.40" y="79.90" font-size="17.42" font-weight="bold" fill="#000" textLength="299.32" lengthAdjust="spacingAndGlyphs">Intercept RW2 (HRES): 30km/h2</text>
<text id="t4" x="1205.14" y="22.00" font-size="17.42" font-weight="bold" fill="#000" textLength="257.40" lengthAdjust="spacingAndGlyphs">Site: LaReunion_SaintDenis</text>
<text id="t5" x="1204.69" y="41.30" font-size="17.42" font-weight="bold" fill="#000" textLength="351.84" lengthAdjust="spacingAndGlyphs">Forecast date: Wed. 02/04, 00h (UTC)</text>
<text id="t6" x="1205.14" y="60.60" font-size="17.42" font-weight="bold" fill="#000" textLength="355.83" lengthAdjust="spacingAndGlyphs">Speed function: U10_speed_Helikite_4</text>
<text id="t7" x="1204.68" y="79.90" font-size="17.42" font-weight="bold" fill="#000" textLength="384.75" lengthAdjust="spacingAndGlyphs">Deployment date: Wed. 02/04, 20h (UTC)</text>
<text id="t8" x="616.03" y="62.80" font-size="43.55" font-weight="bold" fill="#000" textLength="467.36" lengthAdjust="spacingAndGlyphs">Thu. 03/04, 00h (LT)</text>
<text id="t9" x="9.94" y="315.97" font-size="21.77" font-weight="bold" fill="#000" textLength="53.01" lengthAdjust="spacingAndGlyphs">10°S</text>
<text id="t10" x="9.92" y="544.21" font-size="21.77" font-weight="bold" fill="#000" textLength="53.03" lengthAdjust="spacingAndGlyphs">20°S</text>
<text id="t11" x="9.95" y="787.55" font-size="21.77" font-weight="bold" fill="#000" textLength="52.99" lengthAdjust="spacingAndGlyphs">30°S</text>
<text id="t12" x="274.19" y="1082.80" font-size="21.77" font-weight="bold" fill="#000" textLength="52.47" lengthAdjust="spacingAndGlyphs">40°E</text>
<text id="t13" x="714.14" y="1082.80" font-size="21.77" font-weight="bold" fill="#000" textLength="52.64" lengthAdjust="spacingAndGlyphs">60°E</text>
<text id="t14" x="1154.53" y="1082.80" font-size="21.77" font-weight="bold" fill="#000" textLength="52.54" lengthAdjust="spacingAndGlyphs">80°E</text>
<text id="t15" x="1587.34" y="1082.80" font-size="21.77" font-weight="bold" fill="#000" textLength="66.74" lengthAdjust="spacingAndGlyphs">100°E</text>
<text id="t16" x="1695.94" y="944.90" font-size="14.52" font-weight="normal" fill="#000" textLength="8.15" lengthAdjust="spacingAndGlyphs">0</text>
<text id="t17" x="1695.96" y="800.63" font-size="14.52" font-weight="normal" fill="#000" textLength="16.99" lengthAdjust="spacingAndGlyphs">10</text>
<text id="t18" x="1695.84" y="656.36" font-size="14.52" font-weight="normal" fill="#000" textLength="17.11" lengthAdjust="spacingAndGlyphs">20</text>
<text id="t19" x="1696.08" y="512.09" font-size="14.52" font-weight="normal" fill="#000" textLength="16.87" lengthAdjust="spacingAndGlyphs">30</text>
<text id="t20" x="1695.93" y="367.82" font-size="14.52" font-weight="normal" fill="#000" textLength="17.02" lengthAdjust="spacingAndGlyphs">40</text>
<text id="t21" x="1696.07" y="223.55" font-size="14.52" font-weight="normal" fill="#000" textLength="16.88" lengthAdjust="spacingAndGlyphs">50</text>
<text id="t22" x="1326.08" y="892.80" font-size="17.42" font-weight="normal" fill="#000" textLength="128.39" lengthAdjust="spacingAndGlyphs">No Interception</text>
<text id="t23" x="1325.88" y="916.25" font-size="17.42" font-weight="normal" fill="#000" textLength="279.06" lengthAdjust="spacingAndGlyphs">Interception from Named cyclone</text>
<text id="t24" x="1325.89" y="939.70" font-size="17.42" font-weight="normal" fill="#000" textLength="219.42" lengthAdjust="spacingAndGlyphs">Interception from Trochoid</text>
<text id="t25" x="1325.85" y="963.15" font-size="17.42" font-weight="normal" fill="#000" textLength="187.94" lengthAdjust="spacingAndGlyphs">Interception from both</text>
<text id="t26" x="1326.32" y="986.60" font-size="17.42" font-weight="normal" fill="#000" textLength="44.73" lengthAdjust="spacingAndGlyphs">HRES</text>
<text id="t27" x="1326.09" y="1010.05" font-size="17.42" font-weight="normal" fill="#000" textLength="202.45" lengthAdjust="spacingAndGlyphs">Analysis | 110h duration</text>
<text id="t28" x="1325.53" y="1033.50" font-size="17.42" font-weight="normal" fill="#000" textLength="237.63" lengthAdjust="spacingAndGlyphs">TC obs. for analysis duration</text>
<text id="t29" x="549.80" y="1120.80" font-size="17.42" font-weight="bold" fill="#000" textLength="631.67" lengthAdjust="spacingAndGlyphs">Percentage of flying ballons within a TC as a function of flight time</text>
<text id="t30" x="13.52" y="1199.80" font-size="17.42" font-weight="bold" fill="#000" textLength="23.40" lengthAdjust="spacingAndGlyphs">0h</text>
<text id="t31" x="171.80" y="1199.80" font-size="17.42" font-weight="bold" fill="#000" textLength="34.38" lengthAdjust="spacingAndGlyphs">12h</text>
<text id="t32" x="336.09" y="1199.80" font-size="17.42" font-weight="bold" fill="#000" textLength="34.37" lengthAdjust="spacingAndGlyphs">24h</text>
<text id="t33" x="500.22" y="1199.80" font-size="17.42" font-weight="bold" fill="#000" textLength="34.34" lengthAdjust="spacingAndGlyphs">36h</text>
<text id="t34" x="664.19" y="1199.80" font-size="17.42" font-weight="bold" fill="#000" textLength="34.56" lengthAdjust="spacingAndGlyphs">48h</text>
<text id="t35" x="827.90" y="1199.80" font-size="17.42" font-weight="bold" fill="#000" textLength="34.72" lengthAdjust="spacingAndGlyphs">60h</text>
<text id="t36" x="991.81" y="1199.80" font-size="17.42" font-weight="bold" fill="#000" textLength="34.77" lengthAdjust="spacingAndGlyphs">72h</text>
<text id="t37" x="1155.99" y="1199.80" font-size="17.42" font-weight="bold" fill="#000" textLength="34.63" lengthAdjust="spacingAndGlyphs">84h</text>
<text id="t38" x="1319.85" y="1199.80" font-size="17.42" font-weight="bold" fill="#000" textLength="34.86" lengthAdjust="spacingAndGlyphs">96h</text>
<text id="t39" x="1477.99" y="1199.80" font-size="17.42" font-weight="bold" fill="#000" textLength="46.00" lengthAdjust="spacingAndGlyphs">108h</text>
<text id="t40" x="1641.99" y="1199.80" font-size="17.42" font-weight="bold" fill="#000" textLength="46.00" lengthAdjust="spacingAndGlyphs">120h</text>
<text id="trot" transform="translate(1737.10 931.64) rotate(-90)" x="0" y="0" font-size="20.31" font-weight="bold" textLength="614.96" lengthAdjust="spacingAndGlyphs">Named cyclones forecast - Number of EPS within 120km</text>
</g>
</svg></body></html>
